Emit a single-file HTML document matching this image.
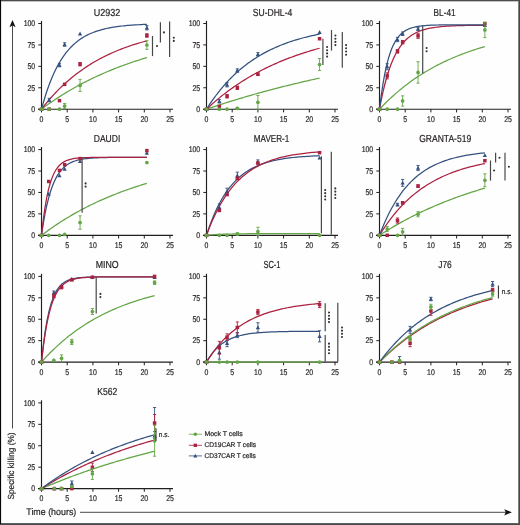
<!DOCTYPE html>
<html><head><meta charset="utf-8"><style>
html,body{margin:0;padding:0;background:#fff;}
svg{display:block;font-family:"Liberation Sans", sans-serif;will-change:transform;}
text{stroke:#231f20;stroke-width:0.2px;text-rendering:geometricPrecision;}
</style></head><body>
<svg width="520" height="525" viewBox="0 0 520 525">
<rect width="520" height="525" fill="#fefefe"/>
<text x="107.1" y="15.9" font-size="10.2" text-anchor="middle" fill="#231f20" textLength="26.5" lengthAdjust="spacingAndGlyphs">U2932</text>
<line x1="41.5" y1="20.9" x2="41.5" y2="109.7" stroke="#231f20" stroke-width="1.15"/>
<line x1="38" y1="109.2" x2="173" y2="109.2" stroke="#231f20" stroke-width="1.15"/>
<line x1="38.3" y1="109.2" x2="41.5" y2="109.2" stroke="#231f20" stroke-width="1"/>
<text x="35.2" y="112" font-size="8.3" text-anchor="end" fill="#231f20" textLength="3.85" lengthAdjust="spacingAndGlyphs">0</text>
<line x1="38.3" y1="87.78" x2="41.5" y2="87.78" stroke="#231f20" stroke-width="1"/>
<text x="35.2" y="90.58" font-size="8.3" text-anchor="end" fill="#231f20" textLength="7.7" lengthAdjust="spacingAndGlyphs">25</text>
<line x1="38.3" y1="66.35" x2="41.5" y2="66.35" stroke="#231f20" stroke-width="1"/>
<text x="35.2" y="69.15" font-size="8.3" text-anchor="end" fill="#231f20" textLength="7.7" lengthAdjust="spacingAndGlyphs">50</text>
<line x1="38.3" y1="44.92" x2="41.5" y2="44.92" stroke="#231f20" stroke-width="1"/>
<text x="35.2" y="47.72" font-size="8.3" text-anchor="end" fill="#231f20" textLength="7.7" lengthAdjust="spacingAndGlyphs">75</text>
<line x1="38.3" y1="23.5" x2="41.5" y2="23.5" stroke="#231f20" stroke-width="1"/>
<text x="35.2" y="26.3" font-size="8.3" text-anchor="end" fill="#231f20" textLength="11.55" lengthAdjust="spacingAndGlyphs">100</text>
<line x1="41.5" y1="109.2" x2="41.5" y2="112.4" stroke="#231f20" stroke-width="1"/>
<text x="41.5" y="121.9" font-size="8.3" text-anchor="middle" fill="#231f20" textLength="3.85" lengthAdjust="spacingAndGlyphs">0</text>
<line x1="67.2" y1="109.2" x2="67.2" y2="112.4" stroke="#231f20" stroke-width="1"/>
<text x="67.2" y="121.9" font-size="8.3" text-anchor="middle" fill="#231f20" textLength="3.85" lengthAdjust="spacingAndGlyphs">5</text>
<line x1="92.9" y1="109.2" x2="92.9" y2="112.4" stroke="#231f20" stroke-width="1"/>
<text x="92.9" y="121.9" font-size="8.3" text-anchor="middle" fill="#231f20" textLength="7.7" lengthAdjust="spacingAndGlyphs">10</text>
<line x1="118.6" y1="109.2" x2="118.6" y2="112.4" stroke="#231f20" stroke-width="1"/>
<text x="118.6" y="121.9" font-size="8.3" text-anchor="middle" fill="#231f20" textLength="7.7" lengthAdjust="spacingAndGlyphs">15</text>
<line x1="144.3" y1="109.2" x2="144.3" y2="112.4" stroke="#231f20" stroke-width="1"/>
<text x="144.3" y="121.9" font-size="8.3" text-anchor="middle" fill="#231f20" textLength="7.7" lengthAdjust="spacingAndGlyphs">20</text>
<line x1="170" y1="109.2" x2="170" y2="112.4" stroke="#231f20" stroke-width="1"/>
<text x="170" y="121.9" font-size="8.3" text-anchor="middle" fill="#231f20" textLength="7.7" lengthAdjust="spacingAndGlyphs">25</text>
<polyline points="41.5,109.2 43.26,107.89 45.01,106.6 46.77,105.34 48.52,104.09 50.28,102.86 52.04,101.65 53.79,100.46 55.55,99.28 57.31,98.13 59.06,96.99 60.82,95.87 62.57,94.76 64.33,93.67 66.09,92.6 67.84,91.55 69.6,90.51 71.35,89.49 73.11,88.48 74.87,87.49 76.62,86.51 78.38,85.55 80.14,84.61 81.89,83.67 83.65,82.76 85.4,81.85 87.16,80.96 88.92,80.08 90.67,79.22 92.43,78.37 94.19,77.53 95.94,76.71 97.7,75.9 99.45,75.1 101.21,74.31 102.97,73.54 104.72,72.77 106.48,72.02 108.23,71.28 109.99,70.55 111.75,69.83 113.5,69.13 115.26,68.43 117.02,67.74 118.77,67.07 120.53,66.4 122.28,65.75 124.04,65.11 125.8,64.47 127.55,63.85 129.31,63.23 131.06,62.62 132.82,62.03 134.58,61.44 136.33,60.86 138.09,60.29 139.85,59.73 141.6,59.18 143.36,58.63 145.11,58.1 146.87,57.57" fill="none" stroke="#64a546" stroke-width="1.25"/>
<polyline points="41.5,109.2 43.26,106.95 45.01,104.75 46.77,102.62 48.52,100.53 50.28,98.51 52.04,96.54 53.79,94.62 55.55,92.75 57.31,90.92 59.06,89.15 60.82,87.42 62.57,85.74 64.33,84.11 66.09,82.51 67.84,80.96 69.6,79.45 71.35,77.98 73.11,76.55 74.87,75.15 76.62,73.79 78.38,72.47 80.14,71.18 81.89,69.93 83.65,68.71 85.4,67.52 87.16,66.36 88.92,65.23 90.67,64.14 92.43,63.07 94.19,62.03 95.94,61.01 97.7,60.03 99.45,59.07 101.21,58.13 102.97,57.22 104.72,56.33 106.48,55.47 108.23,54.63 109.99,53.81 111.75,53.01 113.5,52.24 115.26,51.48 117.02,50.75 118.77,50.03 120.53,49.33 122.28,48.65 124.04,47.99 125.8,47.35 127.55,46.72 129.31,46.11 131.06,45.51 132.82,44.94 134.58,44.37 136.33,43.82 138.09,43.29 139.85,42.77 141.6,42.26 143.36,41.77 145.11,41.29 146.87,40.82" fill="none" stroke="#ab2240" stroke-width="1.25"/>
<polyline points="41.5,109.2 43.26,102.86 45.01,96.99 46.77,91.55 48.52,86.51 50.28,81.85 52.04,77.53 53.79,73.54 55.55,69.83 57.31,66.4 59.06,63.23 60.82,60.29 62.57,57.57 64.33,55.05 66.09,52.71 67.84,50.55 69.6,48.55 71.35,46.7 73.11,44.98 74.87,43.39 76.62,41.92 78.38,40.56 80.14,39.29 81.89,38.12 83.65,37.04 85.4,36.04 87.16,35.11 88.92,34.25 90.67,33.46 92.43,32.72 94.19,32.04 95.94,31.41 97.7,30.82 99.45,30.28 101.21,29.78 102.97,29.31 104.72,28.88 106.48,28.49 108.23,28.12 109.99,27.77 111.75,27.46 113.5,27.17 115.26,26.89 117.02,26.64 118.77,26.41 120.53,26.2 122.28,26 124.04,25.81 125.8,25.64 127.55,25.48 129.31,25.34 131.06,25.2 132.82,25.07 134.58,24.96 136.33,24.85 138.09,24.75 139.85,24.66 141.6,24.57 143.36,24.49 145.11,24.42 146.87,24.35" fill="none" stroke="#35517f" stroke-width="1.25"/>
<path d="M41.5 107L43.6 110.88L39.4 110.88Z" fill="#35517f"/>
<line x1="49.21" y1="98.32" x2="49.21" y2="101.74" stroke="#35517f" stroke-width="0.9"/>
<line x1="47.61" y1="98.32" x2="50.81" y2="98.32" stroke="#35517f" stroke-width="0.9"/>
<line x1="47.61" y1="101.74" x2="50.81" y2="101.74" stroke="#35517f" stroke-width="0.9"/>
<path d="M49.21 97.83L51.31 101.71L47.11 101.71Z" fill="#35517f"/>
<line x1="59.49" y1="63.35" x2="59.49" y2="66.78" stroke="#35517f" stroke-width="0.9"/>
<line x1="57.89" y1="63.35" x2="61.09" y2="63.35" stroke="#35517f" stroke-width="0.9"/>
<line x1="57.89" y1="66.78" x2="61.09" y2="66.78" stroke="#35517f" stroke-width="0.9"/>
<path d="M59.49 62.86L61.59 66.74L57.39 66.74Z" fill="#35517f"/>
<line x1="64.63" y1="42.78" x2="64.63" y2="46.21" stroke="#35517f" stroke-width="0.9"/>
<line x1="63.03" y1="42.78" x2="66.23" y2="42.78" stroke="#35517f" stroke-width="0.9"/>
<line x1="63.03" y1="46.21" x2="66.23" y2="46.21" stroke="#35517f" stroke-width="0.9"/>
<path d="M64.63 42.29L66.73 46.18L62.53 46.18Z" fill="#35517f"/>
<path d="M80.05 31.58L82.15 35.46L77.95 35.46Z" fill="#35517f"/>
<line x1="146.87" y1="25.64" x2="146.87" y2="29.93" stroke="#35517f" stroke-width="0.9"/>
<line x1="145.27" y1="25.64" x2="148.47" y2="25.64" stroke="#35517f" stroke-width="0.9"/>
<line x1="145.27" y1="29.93" x2="148.47" y2="29.93" stroke="#35517f" stroke-width="0.9"/>
<path d="M146.87 25.58L148.97 29.47L144.77 29.47Z" fill="#35517f"/>
<rect x="39.75" y="107.45" width="3.5" height="3.5" fill="#ab2240"/>
<rect x="47.46" y="107.45" width="3.5" height="3.5" fill="#ab2240"/>
<rect x="57.74" y="98.88" width="3.5" height="3.5" fill="#ab2240"/>
<rect x="62.88" y="82.6" width="3.5" height="3.5" fill="#ab2240"/>
<line x1="80.05" y1="62.49" x2="80.05" y2="65.92" stroke="#ab2240" stroke-width="0.9"/>
<line x1="78.45" y1="62.49" x2="81.65" y2="62.49" stroke="#ab2240" stroke-width="0.9"/>
<line x1="78.45" y1="65.92" x2="81.65" y2="65.92" stroke="#ab2240" stroke-width="0.9"/>
<rect x="78.3" y="62.46" width="3.5" height="3.5" fill="#ab2240"/>
<line x1="146.87" y1="33.78" x2="146.87" y2="37.21" stroke="#ab2240" stroke-width="0.9"/>
<line x1="145.27" y1="33.78" x2="148.47" y2="33.78" stroke="#ab2240" stroke-width="0.9"/>
<line x1="145.27" y1="37.21" x2="148.47" y2="37.21" stroke="#ab2240" stroke-width="0.9"/>
<rect x="145.12" y="33.75" width="3.5" height="3.5" fill="#ab2240"/>
<circle cx="41.5" cy="109.2" r="1.85" fill="#64a546"/>
<circle cx="49.21" cy="109.2" r="1.85" fill="#64a546"/>
<circle cx="59.49" cy="109.2" r="1.85" fill="#64a546"/>
<line x1="64.63" y1="103.46" x2="64.63" y2="108.6" stroke="#64a546" stroke-width="0.9"/>
<line x1="63.03" y1="103.46" x2="66.23" y2="103.46" stroke="#64a546" stroke-width="0.9"/>
<line x1="63.03" y1="108.6" x2="66.23" y2="108.6" stroke="#64a546" stroke-width="0.9"/>
<circle cx="64.63" cy="106.03" r="1.85" fill="#64a546"/>
<line x1="80.05" y1="79.38" x2="80.05" y2="91.37" stroke="#64a546" stroke-width="0.9"/>
<line x1="78.45" y1="79.38" x2="81.65" y2="79.38" stroke="#64a546" stroke-width="0.9"/>
<line x1="78.45" y1="91.37" x2="81.65" y2="91.37" stroke="#64a546" stroke-width="0.9"/>
<circle cx="80.05" cy="85.38" r="1.85" fill="#64a546"/>
<line x1="146.87" y1="40.73" x2="146.87" y2="49.3" stroke="#64a546" stroke-width="0.9"/>
<line x1="145.27" y1="40.73" x2="148.47" y2="40.73" stroke="#64a546" stroke-width="0.9"/>
<line x1="145.27" y1="49.3" x2="148.47" y2="49.3" stroke="#64a546" stroke-width="0.9"/>
<circle cx="146.87" cy="45.01" r="1.85" fill="#64a546"/>
<line x1="152.5" y1="36" x2="152.5" y2="56.1" stroke="#484848" stroke-width="1.2"/>
<circle cx="157" cy="46.05" r="1.05" fill="#333"/>
<line x1="160.4" y1="22.3" x2="160.4" y2="42.5" stroke="#484848" stroke-width="1.2"/>
<circle cx="163.9" cy="32.4" r="1.05" fill="#333"/>
<line x1="169.6" y1="21.5" x2="169.6" y2="57.1" stroke="#484848" stroke-width="1.2"/>
<circle cx="173.8" cy="37.7" r="1.05" fill="#333"/>
<circle cx="173.8" cy="40.9" r="1.05" fill="#333"/>
<text x="272.5" y="15.9" font-size="10.2" text-anchor="middle" fill="#231f20" textLength="39.5" lengthAdjust="spacingAndGlyphs">SU-DHL-4</text>
<line x1="206.5" y1="20.9" x2="206.5" y2="109.7" stroke="#231f20" stroke-width="1.15"/>
<line x1="203" y1="109.2" x2="338" y2="109.2" stroke="#231f20" stroke-width="1.15"/>
<line x1="203.3" y1="109.2" x2="206.5" y2="109.2" stroke="#231f20" stroke-width="1"/>
<text x="200.2" y="112" font-size="8.3" text-anchor="end" fill="#231f20" textLength="3.85" lengthAdjust="spacingAndGlyphs">0</text>
<line x1="203.3" y1="87.78" x2="206.5" y2="87.78" stroke="#231f20" stroke-width="1"/>
<text x="200.2" y="90.58" font-size="8.3" text-anchor="end" fill="#231f20" textLength="7.7" lengthAdjust="spacingAndGlyphs">25</text>
<line x1="203.3" y1="66.35" x2="206.5" y2="66.35" stroke="#231f20" stroke-width="1"/>
<text x="200.2" y="69.15" font-size="8.3" text-anchor="end" fill="#231f20" textLength="7.7" lengthAdjust="spacingAndGlyphs">50</text>
<line x1="203.3" y1="44.92" x2="206.5" y2="44.92" stroke="#231f20" stroke-width="1"/>
<text x="200.2" y="47.72" font-size="8.3" text-anchor="end" fill="#231f20" textLength="7.7" lengthAdjust="spacingAndGlyphs">75</text>
<line x1="203.3" y1="23.5" x2="206.5" y2="23.5" stroke="#231f20" stroke-width="1"/>
<text x="200.2" y="26.3" font-size="8.3" text-anchor="end" fill="#231f20" textLength="11.55" lengthAdjust="spacingAndGlyphs">100</text>
<line x1="206.5" y1="109.2" x2="206.5" y2="112.4" stroke="#231f20" stroke-width="1"/>
<text x="206.5" y="121.9" font-size="8.3" text-anchor="middle" fill="#231f20" textLength="3.85" lengthAdjust="spacingAndGlyphs">0</text>
<line x1="232.2" y1="109.2" x2="232.2" y2="112.4" stroke="#231f20" stroke-width="1"/>
<text x="232.2" y="121.9" font-size="8.3" text-anchor="middle" fill="#231f20" textLength="3.85" lengthAdjust="spacingAndGlyphs">5</text>
<line x1="257.9" y1="109.2" x2="257.9" y2="112.4" stroke="#231f20" stroke-width="1"/>
<text x="257.9" y="121.9" font-size="8.3" text-anchor="middle" fill="#231f20" textLength="7.7" lengthAdjust="spacingAndGlyphs">10</text>
<line x1="283.6" y1="109.2" x2="283.6" y2="112.4" stroke="#231f20" stroke-width="1"/>
<text x="283.6" y="121.9" font-size="8.3" text-anchor="middle" fill="#231f20" textLength="7.7" lengthAdjust="spacingAndGlyphs">15</text>
<line x1="309.3" y1="109.2" x2="309.3" y2="112.4" stroke="#231f20" stroke-width="1"/>
<text x="309.3" y="121.9" font-size="8.3" text-anchor="middle" fill="#231f20" textLength="7.7" lengthAdjust="spacingAndGlyphs">20</text>
<line x1="335" y1="109.2" x2="335" y2="112.4" stroke="#231f20" stroke-width="1"/>
<text x="335" y="121.9" font-size="8.3" text-anchor="middle" fill="#231f20" textLength="7.7" lengthAdjust="spacingAndGlyphs">25</text>
<polyline points="206.5,109.2 208.38,108.56 210.27,107.92 212.15,107.29 214.04,106.66 215.92,106.04 217.81,105.42 219.69,104.81 221.58,104.2 223.46,103.59 225.35,102.99 227.23,102.4 229.12,101.81 231,101.22 232.89,100.64 234.77,100.06 236.65,99.49 238.54,98.92 240.42,98.35 242.31,97.79 244.19,97.24 246.08,96.69 247.96,96.14 249.85,95.59 251.73,95.05 253.62,94.52 255.5,93.99 257.39,93.46 259.27,92.93 261.16,92.41 263.04,91.9 264.92,91.39 266.81,90.88 268.69,90.37 270.58,89.87 272.46,89.38 274.35,88.88 276.23,88.39 278.12,87.91 280,87.42 281.89,86.95 283.77,86.47 285.66,86 287.54,85.53 289.43,85.07 291.31,84.61 293.19,84.15 295.08,83.69 296.96,83.24 298.85,82.8 300.73,82.35 302.62,81.91 304.5,81.47 306.39,81.04 308.27,80.61 310.16,80.18 312.04,79.76 313.93,79.34 315.81,78.92 317.7,78.5 319.58,78.09" fill="none" stroke="#64a546" stroke-width="1.25"/>
<polyline points="206.5,109.2 208.38,107.44 210.27,105.72 212.15,104.04 214.04,102.38 215.92,100.77 217.81,99.18 219.69,97.63 221.58,96.11 223.46,94.62 225.35,93.16 227.23,91.74 229.12,90.34 231,88.97 232.89,87.62 234.77,86.31 236.65,85.02 238.54,83.76 240.42,82.52 242.31,81.31 244.19,80.13 246.08,78.97 247.96,77.83 249.85,76.72 251.73,75.63 253.62,74.56 255.5,73.51 257.39,72.48 259.27,71.48 261.16,70.5 263.04,69.53 264.92,68.59 266.81,67.66 268.69,66.76 270.58,65.87 272.46,65 274.35,64.15 276.23,63.32 278.12,62.5 280,61.7 281.89,60.92 283.77,60.15 285.66,59.4 287.54,58.66 289.43,57.94 291.31,57.24 293.19,56.55 295.08,55.87 296.96,55.2 298.85,54.55 300.73,53.92 302.62,53.29 304.5,52.68 306.39,52.08 308.27,51.5 310.16,50.92 312.04,50.36 313.93,49.81 315.81,49.27 317.7,48.74 319.58,48.23" fill="none" stroke="#ab2240" stroke-width="1.25"/>
<polyline points="206.5,109.2 208.38,106.27 210.27,103.43 212.15,100.7 214.04,98.05 215.92,95.5 217.81,93.04 219.69,90.66 221.58,88.36 223.46,86.14 225.35,83.99 227.23,81.92 229.12,79.92 231,77.99 232.89,76.12 234.77,74.32 236.65,72.58 238.54,70.9 240.42,69.28 242.31,67.71 244.19,66.2 246.08,64.74 247.96,63.33 249.85,61.96 251.73,60.65 253.62,59.37 255.5,58.15 257.39,56.96 259.27,55.81 261.16,54.71 263.04,53.64 264.92,52.61 266.81,51.61 268.69,50.65 270.58,49.72 272.46,48.82 274.35,47.96 276.23,47.12 278.12,46.31 280,45.53 281.89,44.77 283.77,44.05 285.66,43.34 287.54,42.66 289.43,42.01 291.31,41.37 293.19,40.76 295.08,40.17 296.96,39.6 298.85,39.05 300.73,38.52 302.62,38 304.5,37.51 306.39,37.03 308.27,36.56 310.16,36.12 312.04,35.68 313.93,35.27 315.81,34.86 317.7,34.48 319.58,34.1" fill="none" stroke="#35517f" stroke-width="1.25"/>
<path d="M206.5 107L208.6 110.88L204.4 110.88Z" fill="#35517f"/>
<line x1="219.35" y1="99.6" x2="219.35" y2="103.03" stroke="#35517f" stroke-width="0.9"/>
<line x1="217.75" y1="99.6" x2="220.95" y2="99.6" stroke="#35517f" stroke-width="0.9"/>
<line x1="217.75" y1="103.03" x2="220.95" y2="103.03" stroke="#35517f" stroke-width="0.9"/>
<path d="M219.35 99.11L221.45 103L217.25 103Z" fill="#35517f"/>
<line x1="227.06" y1="82.63" x2="227.06" y2="86.92" stroke="#35517f" stroke-width="0.9"/>
<line x1="225.46" y1="82.63" x2="228.66" y2="82.63" stroke="#35517f" stroke-width="0.9"/>
<line x1="225.46" y1="86.92" x2="228.66" y2="86.92" stroke="#35517f" stroke-width="0.9"/>
<path d="M227.06 82.57L229.16 86.46L224.96 86.46Z" fill="#35517f"/>
<line x1="237.34" y1="68.84" x2="237.34" y2="72.26" stroke="#35517f" stroke-width="0.9"/>
<line x1="235.74" y1="68.84" x2="238.94" y2="68.84" stroke="#35517f" stroke-width="0.9"/>
<line x1="235.74" y1="72.26" x2="238.94" y2="72.26" stroke="#35517f" stroke-width="0.9"/>
<path d="M237.34 68.34L239.44 72.23L235.24 72.23Z" fill="#35517f"/>
<line x1="257.9" y1="52.64" x2="257.9" y2="56.07" stroke="#35517f" stroke-width="0.9"/>
<line x1="256.3" y1="52.64" x2="259.5" y2="52.64" stroke="#35517f" stroke-width="0.9"/>
<line x1="256.3" y1="56.07" x2="259.5" y2="56.07" stroke="#35517f" stroke-width="0.9"/>
<path d="M257.9 52.15L260 56.03L255.8 56.03Z" fill="#35517f"/>
<path d="M319.58 30.04L321.68 33.92L317.48 33.92Z" fill="#35517f"/>
<rect x="204.75" y="107.45" width="3.5" height="3.5" fill="#ab2240"/>
<rect x="217.6" y="104.71" width="3.5" height="3.5" fill="#ab2240"/>
<line x1="227.06" y1="94.55" x2="227.06" y2="97.97" stroke="#ab2240" stroke-width="0.9"/>
<line x1="225.46" y1="94.55" x2="228.66" y2="94.55" stroke="#ab2240" stroke-width="0.9"/>
<line x1="225.46" y1="97.97" x2="228.66" y2="97.97" stroke="#ab2240" stroke-width="0.9"/>
<rect x="225.31" y="94.51" width="3.5" height="3.5" fill="#ab2240"/>
<line x1="237.34" y1="86.06" x2="237.34" y2="89.49" stroke="#ab2240" stroke-width="0.9"/>
<line x1="235.74" y1="86.06" x2="238.94" y2="86.06" stroke="#ab2240" stroke-width="0.9"/>
<line x1="235.74" y1="89.49" x2="238.94" y2="89.49" stroke="#ab2240" stroke-width="0.9"/>
<rect x="235.59" y="86.03" width="3.5" height="3.5" fill="#ab2240"/>
<line x1="257.9" y1="72.95" x2="257.9" y2="75.52" stroke="#ab2240" stroke-width="0.9"/>
<line x1="256.3" y1="72.95" x2="259.5" y2="72.95" stroke="#ab2240" stroke-width="0.9"/>
<line x1="256.3" y1="75.52" x2="259.5" y2="75.52" stroke="#ab2240" stroke-width="0.9"/>
<rect x="256.15" y="72.48" width="3.5" height="3.5" fill="#ab2240"/>
<rect x="317.83" y="37" width="3.5" height="3.5" fill="#ab2240"/>
<circle cx="206.5" cy="109.2" r="1.85" fill="#64a546"/>
<circle cx="219.35" cy="109.2" r="1.85" fill="#64a546"/>
<circle cx="227.06" cy="109.2" r="1.85" fill="#64a546"/>
<line x1="237.34" y1="107.49" x2="237.34" y2="109.2" stroke="#64a546" stroke-width="0.9"/>
<line x1="235.74" y1="107.49" x2="238.94" y2="107.49" stroke="#64a546" stroke-width="0.9"/>
<line x1="235.74" y1="109.2" x2="238.94" y2="109.2" stroke="#64a546" stroke-width="0.9"/>
<circle cx="237.34" cy="108.34" r="1.85" fill="#64a546"/>
<line x1="257.9" y1="95.49" x2="257.9" y2="109.2" stroke="#64a546" stroke-width="0.9"/>
<line x1="256.3" y1="95.49" x2="259.5" y2="95.49" stroke="#64a546" stroke-width="0.9"/>
<line x1="256.3" y1="109.2" x2="259.5" y2="109.2" stroke="#64a546" stroke-width="0.9"/>
<circle cx="257.9" cy="102.34" r="1.85" fill="#64a546"/>
<line x1="319.58" y1="58.55" x2="319.58" y2="70.55" stroke="#64a546" stroke-width="0.9"/>
<line x1="317.98" y1="58.55" x2="321.18" y2="58.55" stroke="#64a546" stroke-width="0.9"/>
<line x1="317.98" y1="70.55" x2="321.18" y2="70.55" stroke="#64a546" stroke-width="0.9"/>
<circle cx="319.58" cy="64.55" r="1.85" fill="#64a546"/>
<line x1="322.9" y1="38.7" x2="322.9" y2="64.9" stroke="#484848" stroke-width="1.2"/>
<circle cx="327.1" cy="47" r="1.05" fill="#333"/>
<circle cx="327.1" cy="50.2" r="1.05" fill="#333"/>
<circle cx="327.1" cy="53.4" r="1.05" fill="#333"/>
<circle cx="327.1" cy="56.6" r="1.05" fill="#333"/>
<line x1="331.5" y1="30" x2="331.5" y2="50.6" stroke="#484848" stroke-width="1.2"/>
<circle cx="335.4" cy="35.5" r="1.05" fill="#333"/>
<circle cx="335.4" cy="38.7" r="1.05" fill="#333"/>
<circle cx="335.4" cy="41.9" r="1.05" fill="#333"/>
<circle cx="335.4" cy="45.1" r="1.05" fill="#333"/>
<line x1="342.3" y1="32.1" x2="342.3" y2="67.7" stroke="#484848" stroke-width="1.2"/>
<circle cx="346.1" cy="45.1" r="1.05" fill="#333"/>
<circle cx="346.1" cy="48.3" r="1.05" fill="#333"/>
<circle cx="346.1" cy="51.5" r="1.05" fill="#333"/>
<circle cx="346.1" cy="54.7" r="1.05" fill="#333"/>
<text x="444.6" y="15.9" font-size="10.2" text-anchor="middle" fill="#231f20" textLength="22" lengthAdjust="spacingAndGlyphs">BL-41</text>
<line x1="379.5" y1="20.9" x2="379.5" y2="109.7" stroke="#231f20" stroke-width="1.15"/>
<line x1="376" y1="109.2" x2="511" y2="109.2" stroke="#231f20" stroke-width="1.15"/>
<line x1="376.3" y1="109.2" x2="379.5" y2="109.2" stroke="#231f20" stroke-width="1"/>
<text x="373.2" y="112" font-size="8.3" text-anchor="end" fill="#231f20" textLength="3.85" lengthAdjust="spacingAndGlyphs">0</text>
<line x1="376.3" y1="87.78" x2="379.5" y2="87.78" stroke="#231f20" stroke-width="1"/>
<text x="373.2" y="90.58" font-size="8.3" text-anchor="end" fill="#231f20" textLength="7.7" lengthAdjust="spacingAndGlyphs">25</text>
<line x1="376.3" y1="66.35" x2="379.5" y2="66.35" stroke="#231f20" stroke-width="1"/>
<text x="373.2" y="69.15" font-size="8.3" text-anchor="end" fill="#231f20" textLength="7.7" lengthAdjust="spacingAndGlyphs">50</text>
<line x1="376.3" y1="44.92" x2="379.5" y2="44.92" stroke="#231f20" stroke-width="1"/>
<text x="373.2" y="47.72" font-size="8.3" text-anchor="end" fill="#231f20" textLength="7.7" lengthAdjust="spacingAndGlyphs">75</text>
<line x1="376.3" y1="23.5" x2="379.5" y2="23.5" stroke="#231f20" stroke-width="1"/>
<text x="373.2" y="26.3" font-size="8.3" text-anchor="end" fill="#231f20" textLength="11.55" lengthAdjust="spacingAndGlyphs">100</text>
<line x1="379.5" y1="109.2" x2="379.5" y2="112.4" stroke="#231f20" stroke-width="1"/>
<text x="379.5" y="121.9" font-size="8.3" text-anchor="middle" fill="#231f20" textLength="3.85" lengthAdjust="spacingAndGlyphs">0</text>
<line x1="405.2" y1="109.2" x2="405.2" y2="112.4" stroke="#231f20" stroke-width="1"/>
<text x="405.2" y="121.9" font-size="8.3" text-anchor="middle" fill="#231f20" textLength="3.85" lengthAdjust="spacingAndGlyphs">5</text>
<line x1="430.9" y1="109.2" x2="430.9" y2="112.4" stroke="#231f20" stroke-width="1"/>
<text x="430.9" y="121.9" font-size="8.3" text-anchor="middle" fill="#231f20" textLength="7.7" lengthAdjust="spacingAndGlyphs">10</text>
<line x1="456.6" y1="109.2" x2="456.6" y2="112.4" stroke="#231f20" stroke-width="1"/>
<text x="456.6" y="121.9" font-size="8.3" text-anchor="middle" fill="#231f20" textLength="7.7" lengthAdjust="spacingAndGlyphs">15</text>
<line x1="482.3" y1="109.2" x2="482.3" y2="112.4" stroke="#231f20" stroke-width="1"/>
<text x="482.3" y="121.9" font-size="8.3" text-anchor="middle" fill="#231f20" textLength="7.7" lengthAdjust="spacingAndGlyphs">20</text>
<line x1="508" y1="109.2" x2="508" y2="112.4" stroke="#231f20" stroke-width="1"/>
<text x="508" y="121.9" font-size="8.3" text-anchor="middle" fill="#231f20" textLength="7.7" lengthAdjust="spacingAndGlyphs">25</text>
<polyline points="379.5,109.2 381.26,107.35 383.01,105.53 384.77,103.76 386.52,102.02 388.28,100.32 390.04,98.66 391.79,97.04 393.55,95.45 395.31,93.89 397.06,92.37 398.82,90.88 400.57,89.42 402.33,87.99 404.09,86.6 405.84,85.24 407.6,83.9 409.35,82.59 411.11,81.32 412.87,80.06 414.62,78.84 416.38,77.64 418.14,76.47 419.89,75.33 421.65,74.21 423.4,73.11 425.16,72.04 426.92,70.99 428.67,69.96 430.43,68.95 432.19,67.97 433.94,67.01 435.7,66.07 437.45,65.15 439.21,64.25 440.97,63.37 442.72,62.5 444.48,61.66 446.23,60.83 447.99,60.03 449.75,59.24 451.5,58.46 453.26,57.71 455.02,56.97 456.77,56.24 458.53,55.54 460.28,54.84 462.04,54.16 463.8,53.5 465.55,52.85 467.31,52.22 469.06,51.6 470.82,50.99 472.58,50.39 474.33,49.81 476.09,49.24 477.85,48.69 479.6,48.14 481.36,47.61 483.11,47.09 484.87,46.58" fill="none" stroke="#64a546" stroke-width="1.25"/>
<polyline points="379.5,109.2 381.26,99.99 383.01,91.79 384.77,84.49 386.52,77.99 388.28,72.2 390.04,67.05 391.79,62.46 393.55,58.37 395.31,54.74 397.06,51.5 398.82,48.62 400.57,46.05 402.33,43.76 404.09,41.73 405.84,39.92 407.6,38.31 409.35,36.87 411.11,35.59 412.87,34.45 414.62,33.44 416.38,32.54 418.14,31.73 419.89,31.02 421.65,30.38 423.4,29.82 425.16,29.31 426.92,28.86 428.67,28.46 430.43,28.11 432.19,27.79 433.94,27.51 435.7,27.25 437.45,27.03 439.21,26.83 440.97,26.65 442.72,26.5 444.48,26.36 446.23,26.23 447.99,26.12 449.75,26.02 451.5,25.93 453.26,25.85 455.02,25.78 456.77,25.72 458.53,25.66 460.28,25.62 462.04,25.57 463.8,25.53 465.55,25.5 467.31,25.47 469.06,25.44 470.82,25.41 472.58,25.39 474.33,25.37 476.09,25.36 477.85,25.34 479.6,25.33 481.36,25.31 483.11,25.3 484.87,25.29" fill="none" stroke="#ab2240" stroke-width="1.25"/>
<polyline points="379.5,109.2 381.26,95.22 383.01,83.55 384.77,73.82 386.52,65.7 388.28,58.92 390.04,53.27 391.79,48.55 393.55,44.61 395.31,41.33 397.06,38.59 398.82,36.3 400.57,34.39 402.33,32.8 404.09,31.48 405.84,30.37 407.6,29.44 409.35,28.67 411.11,28.03 412.87,27.49 414.62,27.04 416.38,26.67 418.14,26.36 419.89,26.1 421.65,25.88 423.4,25.7 425.16,25.55 426.92,25.42 428.67,25.32 430.43,25.23 432.19,25.15 433.94,25.09 435.7,25.04 437.45,25 439.21,24.96 440.97,24.93 442.72,24.91 444.48,24.89 446.23,24.87 447.99,24.86 449.75,24.85 451.5,24.84 453.26,24.83 455.02,24.82 456.77,24.81 458.53,24.81 460.28,24.81 462.04,24.8 463.8,24.8 465.55,24.8 467.31,24.8 469.06,24.79 470.82,24.79 472.58,24.79 474.33,24.79 476.09,24.79 477.85,24.79 479.6,24.79 481.36,24.79 483.11,24.79 484.87,24.79" fill="none" stroke="#35517f" stroke-width="1.25"/>
<path d="M379.5 107L381.6 110.88L377.4 110.88Z" fill="#35517f"/>
<line x1="387.21" y1="63.69" x2="387.21" y2="69.69" stroke="#35517f" stroke-width="0.9"/>
<line x1="385.61" y1="63.69" x2="388.81" y2="63.69" stroke="#35517f" stroke-width="0.9"/>
<line x1="385.61" y1="69.69" x2="388.81" y2="69.69" stroke="#35517f" stroke-width="0.9"/>
<path d="M387.21 64.49L389.31 68.37L385.11 68.37Z" fill="#35517f"/>
<line x1="397.49" y1="37.38" x2="397.49" y2="41.67" stroke="#35517f" stroke-width="0.9"/>
<line x1="395.89" y1="37.38" x2="399.09" y2="37.38" stroke="#35517f" stroke-width="0.9"/>
<line x1="395.89" y1="41.67" x2="399.09" y2="41.67" stroke="#35517f" stroke-width="0.9"/>
<path d="M397.49 37.32L399.59 41.21L395.39 41.21Z" fill="#35517f"/>
<line x1="402.63" y1="31.98" x2="402.63" y2="35.41" stroke="#35517f" stroke-width="0.9"/>
<line x1="401.03" y1="31.98" x2="404.23" y2="31.98" stroke="#35517f" stroke-width="0.9"/>
<line x1="401.03" y1="35.41" x2="404.23" y2="35.41" stroke="#35517f" stroke-width="0.9"/>
<path d="M402.63 31.49L404.73 35.38L400.53 35.38Z" fill="#35517f"/>
<line x1="418.05" y1="27.7" x2="418.05" y2="30.27" stroke="#35517f" stroke-width="0.9"/>
<line x1="416.45" y1="27.7" x2="419.65" y2="27.7" stroke="#35517f" stroke-width="0.9"/>
<line x1="416.45" y1="30.27" x2="419.65" y2="30.27" stroke="#35517f" stroke-width="0.9"/>
<path d="M418.05 26.78L420.15 30.66L415.95 30.66Z" fill="#35517f"/>
<path d="M484.87 23.01L486.97 26.89L482.77 26.89Z" fill="#35517f"/>
<rect x="377.75" y="107.45" width="3.5" height="3.5" fill="#ab2240"/>
<line x1="387.21" y1="72.86" x2="387.21" y2="78.86" stroke="#ab2240" stroke-width="0.9"/>
<line x1="385.61" y1="72.86" x2="388.81" y2="72.86" stroke="#ab2240" stroke-width="0.9"/>
<line x1="385.61" y1="78.86" x2="388.81" y2="78.86" stroke="#ab2240" stroke-width="0.9"/>
<rect x="385.46" y="74.11" width="3.5" height="3.5" fill="#ab2240"/>
<line x1="397.49" y1="49.64" x2="397.49" y2="53.07" stroke="#ab2240" stroke-width="0.9"/>
<line x1="395.89" y1="49.64" x2="399.09" y2="49.64" stroke="#ab2240" stroke-width="0.9"/>
<line x1="395.89" y1="53.07" x2="399.09" y2="53.07" stroke="#ab2240" stroke-width="0.9"/>
<rect x="395.74" y="49.6" width="3.5" height="3.5" fill="#ab2240"/>
<line x1="402.63" y1="40.47" x2="402.63" y2="43.9" stroke="#ab2240" stroke-width="0.9"/>
<line x1="401.03" y1="40.47" x2="404.23" y2="40.47" stroke="#ab2240" stroke-width="0.9"/>
<line x1="401.03" y1="43.9" x2="404.23" y2="43.9" stroke="#ab2240" stroke-width="0.9"/>
<rect x="400.88" y="40.43" width="3.5" height="3.5" fill="#ab2240"/>
<line x1="418.05" y1="33.27" x2="418.05" y2="38.41" stroke="#ab2240" stroke-width="0.9"/>
<line x1="416.45" y1="33.27" x2="419.65" y2="33.27" stroke="#ab2240" stroke-width="0.9"/>
<line x1="416.45" y1="38.41" x2="419.65" y2="38.41" stroke="#ab2240" stroke-width="0.9"/>
<rect x="416.3" y="34.09" width="3.5" height="3.5" fill="#ab2240"/>
<rect x="483.12" y="21.84" width="3.5" height="3.5" fill="#ab2240"/>
<circle cx="379.5" cy="109.2" r="1.85" fill="#64a546"/>
<circle cx="387.21" cy="109.2" r="1.85" fill="#64a546"/>
<circle cx="397.49" cy="109.2" r="1.85" fill="#64a546"/>
<line x1="402.63" y1="95.83" x2="402.63" y2="106.11" stroke="#64a546" stroke-width="0.9"/>
<line x1="401.03" y1="95.83" x2="404.23" y2="95.83" stroke="#64a546" stroke-width="0.9"/>
<line x1="401.03" y1="106.11" x2="404.23" y2="106.11" stroke="#64a546" stroke-width="0.9"/>
<circle cx="402.63" cy="100.97" r="1.85" fill="#64a546"/>
<line x1="418.05" y1="61.72" x2="418.05" y2="83.15" stroke="#64a546" stroke-width="0.9"/>
<line x1="416.45" y1="61.72" x2="419.65" y2="61.72" stroke="#64a546" stroke-width="0.9"/>
<line x1="416.45" y1="83.15" x2="419.65" y2="83.15" stroke="#64a546" stroke-width="0.9"/>
<circle cx="418.05" cy="72.43" r="1.85" fill="#64a546"/>
<line x1="484.87" y1="22.21" x2="484.87" y2="37.64" stroke="#64a546" stroke-width="0.9"/>
<line x1="483.27" y1="22.21" x2="486.47" y2="22.21" stroke="#64a546" stroke-width="0.9"/>
<line x1="483.27" y1="37.64" x2="486.47" y2="37.64" stroke="#64a546" stroke-width="0.9"/>
<circle cx="484.87" cy="29.93" r="1.85" fill="#64a546"/>
<line x1="422.7" y1="26.1" x2="422.7" y2="73.2" stroke="#484848" stroke-width="1.2"/>
<circle cx="426.6" cy="48.05" r="1.05" fill="#333"/>
<circle cx="426.6" cy="51.25" r="1.05" fill="#333"/>
<text x="107" y="141.6" font-size="10.2" text-anchor="middle" fill="#231f20" textLength="26.5" lengthAdjust="spacingAndGlyphs">DAUDI</text>
<line x1="41.5" y1="147" x2="41.5" y2="235.8" stroke="#231f20" stroke-width="1.15"/>
<line x1="38" y1="235.3" x2="173" y2="235.3" stroke="#231f20" stroke-width="1.15"/>
<line x1="38.3" y1="235.3" x2="41.5" y2="235.3" stroke="#231f20" stroke-width="1"/>
<text x="35.2" y="238.1" font-size="8.3" text-anchor="end" fill="#231f20" textLength="3.85" lengthAdjust="spacingAndGlyphs">0</text>
<line x1="38.3" y1="213.88" x2="41.5" y2="213.88" stroke="#231f20" stroke-width="1"/>
<text x="35.2" y="216.68" font-size="8.3" text-anchor="end" fill="#231f20" textLength="7.7" lengthAdjust="spacingAndGlyphs">25</text>
<line x1="38.3" y1="192.45" x2="41.5" y2="192.45" stroke="#231f20" stroke-width="1"/>
<text x="35.2" y="195.25" font-size="8.3" text-anchor="end" fill="#231f20" textLength="7.7" lengthAdjust="spacingAndGlyphs">50</text>
<line x1="38.3" y1="171.03" x2="41.5" y2="171.03" stroke="#231f20" stroke-width="1"/>
<text x="35.2" y="173.83" font-size="8.3" text-anchor="end" fill="#231f20" textLength="7.7" lengthAdjust="spacingAndGlyphs">75</text>
<line x1="38.3" y1="149.6" x2="41.5" y2="149.6" stroke="#231f20" stroke-width="1"/>
<text x="35.2" y="152.4" font-size="8.3" text-anchor="end" fill="#231f20" textLength="11.55" lengthAdjust="spacingAndGlyphs">100</text>
<line x1="41.5" y1="235.3" x2="41.5" y2="238.5" stroke="#231f20" stroke-width="1"/>
<text x="41.5" y="248" font-size="8.3" text-anchor="middle" fill="#231f20" textLength="3.85" lengthAdjust="spacingAndGlyphs">0</text>
<line x1="67.2" y1="235.3" x2="67.2" y2="238.5" stroke="#231f20" stroke-width="1"/>
<text x="67.2" y="248" font-size="8.3" text-anchor="middle" fill="#231f20" textLength="3.85" lengthAdjust="spacingAndGlyphs">5</text>
<line x1="92.9" y1="235.3" x2="92.9" y2="238.5" stroke="#231f20" stroke-width="1"/>
<text x="92.9" y="248" font-size="8.3" text-anchor="middle" fill="#231f20" textLength="7.7" lengthAdjust="spacingAndGlyphs">10</text>
<line x1="118.6" y1="235.3" x2="118.6" y2="238.5" stroke="#231f20" stroke-width="1"/>
<text x="118.6" y="248" font-size="8.3" text-anchor="middle" fill="#231f20" textLength="7.7" lengthAdjust="spacingAndGlyphs">15</text>
<line x1="144.3" y1="235.3" x2="144.3" y2="238.5" stroke="#231f20" stroke-width="1"/>
<text x="144.3" y="248" font-size="8.3" text-anchor="middle" fill="#231f20" textLength="7.7" lengthAdjust="spacingAndGlyphs">20</text>
<line x1="170" y1="235.3" x2="170" y2="238.5" stroke="#231f20" stroke-width="1"/>
<text x="170" y="248" font-size="8.3" text-anchor="middle" fill="#231f20" textLength="7.7" lengthAdjust="spacingAndGlyphs">25</text>
<polyline points="41.5,235.3 43.26,233.98 45.01,232.68 46.77,231.39 48.52,230.13 50.28,228.89 52.04,227.67 53.79,226.46 55.55,225.28 57.31,224.11 59.06,222.96 60.82,221.83 62.57,220.72 64.33,219.62 66.09,218.54 67.84,217.47 69.6,216.43 71.35,215.4 73.11,214.38 74.87,213.38 76.62,212.4 78.38,211.43 80.14,210.48 81.89,209.54 83.65,208.61 85.4,207.7 87.16,206.81 88.92,205.92 90.67,205.05 92.43,204.2 94.19,203.36 95.94,202.53 97.7,201.71 99.45,200.91 101.21,200.12 102.97,199.34 104.72,198.57 106.48,197.81 108.23,197.07 109.99,196.34 111.75,195.62 113.5,194.91 115.26,194.21 117.02,193.52 118.77,192.84 120.53,192.18 122.28,191.52 124.04,190.87 125.8,190.24 127.55,189.61 129.31,188.99 131.06,188.38 132.82,187.79 134.58,187.2 136.33,186.62 138.09,186.05 139.85,185.48 141.6,184.93 143.36,184.39 145.11,183.85 146.87,183.32" fill="none" stroke="#64a546" stroke-width="1.25"/>
<polyline points="41.5,235.3 43.26,223.73 45.01,213.88 46.77,205.49 48.52,198.34 50.28,192.25 52.04,187.07 53.79,182.65 55.55,178.9 57.31,175.69 59.06,172.97 60.82,170.64 62.57,168.67 64.33,166.98 66.09,165.55 67.84,164.33 69.6,163.29 71.35,162.4 73.11,161.65 74.87,161 76.62,160.46 78.38,159.99 80.14,159.59 81.89,159.25 83.65,158.97 85.4,158.72 87.16,158.51 88.92,158.33 90.67,158.18 92.43,158.05 94.19,157.94 95.94,157.85 97.7,157.77 99.45,157.7 101.21,157.64 102.97,157.6 104.72,157.55 106.48,157.52 108.23,157.49 109.99,157.46 111.75,157.44 113.5,157.42 115.26,157.4 117.02,157.39 118.77,157.38 120.53,157.37 122.28,157.36 124.04,157.35 125.8,157.35 127.55,157.34 129.31,157.34 131.06,157.33 132.82,157.33 134.58,157.33 136.33,157.33 138.09,157.32 139.85,157.32 141.6,157.32 143.36,157.32 145.11,157.32 146.87,157.32" fill="none" stroke="#35517f" stroke-width="1.25"/>
<polyline points="41.5,235.3 43.26,219.77 45.01,207.33 46.77,197.37 48.52,189.39 50.28,183 52.04,177.89 53.79,173.79 55.55,170.51 57.31,167.88 59.06,165.78 60.82,164.09 62.57,162.74 64.33,161.66 66.09,160.79 67.84,160.1 69.6,159.55 71.35,159.1 73.11,158.74 74.87,158.46 76.62,158.23 78.38,158.05 80.14,157.9 81.89,157.78 83.65,157.69 85.4,157.62 87.16,157.56 88.92,157.51 90.67,157.47 92.43,157.44 94.19,157.41 95.94,157.39 97.7,157.38 99.45,157.36 101.21,157.35 102.97,157.35 104.72,157.34 106.48,157.33 108.23,157.33 109.99,157.33 111.75,157.32 113.5,157.32 115.26,157.32 117.02,157.32 118.77,157.32 120.53,157.32 122.28,157.32 124.04,157.32 125.8,157.31 127.55,157.31 129.31,157.31 131.06,157.31 132.82,157.31 134.58,157.31 136.33,157.31 138.09,157.31 139.85,157.31 141.6,157.31 143.36,157.31 145.11,157.31 146.87,157.31" fill="none" stroke="#ab2240" stroke-width="1.25"/>
<path d="M41.5 233.09L43.6 236.98L39.4 236.98Z" fill="#35517f"/>
<path d="M48.7 191.96L50.8 195.84L46.6 195.84Z" fill="#35517f"/>
<path d="M59.49 173.45L61.59 177.33L57.39 177.33Z" fill="#35517f"/>
<path d="M64.63 166.76L66.73 170.65L62.53 170.65Z" fill="#35517f"/>
<path d="M80.05 159.14L82.15 163.02L77.95 163.02Z" fill="#35517f"/>
<path d="M146.87 150.82L148.97 154.71L144.77 154.71Z" fill="#35517f"/>
<rect x="39.75" y="233.55" width="3.5" height="3.5" fill="#ab2240"/>
<rect x="46.95" y="179.73" width="3.5" height="3.5" fill="#ab2240"/>
<rect x="57.74" y="168.68" width="3.5" height="3.5" fill="#ab2240"/>
<rect x="62.88" y="163.02" width="3.5" height="3.5" fill="#ab2240"/>
<rect x="78.3" y="156.85" width="3.5" height="3.5" fill="#ab2240"/>
<rect x="145.12" y="148.88" width="3.5" height="3.5" fill="#ab2240"/>
<circle cx="41.5" cy="235.3" r="1.85" fill="#64a546"/>
<circle cx="48.7" cy="235.3" r="1.85" fill="#64a546"/>
<circle cx="59.49" cy="235.3" r="1.85" fill="#64a546"/>
<circle cx="64.63" cy="234.44" r="1.85" fill="#64a546"/>
<line x1="80.05" y1="215.85" x2="80.05" y2="229.22" stroke="#64a546" stroke-width="0.9"/>
<line x1="78.45" y1="215.85" x2="81.65" y2="215.85" stroke="#64a546" stroke-width="0.9"/>
<line x1="78.45" y1="229.22" x2="81.65" y2="229.22" stroke="#64a546" stroke-width="0.9"/>
<circle cx="80.05" cy="222.53" r="1.85" fill="#64a546"/>
<circle cx="146.87" cy="162.54" r="1.85" fill="#64a546"/>
<line x1="82.1" y1="157.3" x2="82.1" y2="212.7" stroke="#484848" stroke-width="1.2"/>
<circle cx="85.6" cy="183.4" r="1.05" fill="#333"/>
<circle cx="85.6" cy="186.6" r="1.05" fill="#333"/>
<text x="271.6" y="141.6" font-size="10.2" text-anchor="middle" fill="#231f20" textLength="35.5" lengthAdjust="spacingAndGlyphs">MAVER-1</text>
<line x1="206.5" y1="147" x2="206.5" y2="235.8" stroke="#231f20" stroke-width="1.15"/>
<line x1="203" y1="235.3" x2="338" y2="235.3" stroke="#231f20" stroke-width="1.15"/>
<line x1="203.3" y1="235.3" x2="206.5" y2="235.3" stroke="#231f20" stroke-width="1"/>
<text x="200.2" y="238.1" font-size="8.3" text-anchor="end" fill="#231f20" textLength="3.85" lengthAdjust="spacingAndGlyphs">0</text>
<line x1="203.3" y1="213.88" x2="206.5" y2="213.88" stroke="#231f20" stroke-width="1"/>
<text x="200.2" y="216.68" font-size="8.3" text-anchor="end" fill="#231f20" textLength="7.7" lengthAdjust="spacingAndGlyphs">25</text>
<line x1="203.3" y1="192.45" x2="206.5" y2="192.45" stroke="#231f20" stroke-width="1"/>
<text x="200.2" y="195.25" font-size="8.3" text-anchor="end" fill="#231f20" textLength="7.7" lengthAdjust="spacingAndGlyphs">50</text>
<line x1="203.3" y1="171.03" x2="206.5" y2="171.03" stroke="#231f20" stroke-width="1"/>
<text x="200.2" y="173.83" font-size="8.3" text-anchor="end" fill="#231f20" textLength="7.7" lengthAdjust="spacingAndGlyphs">75</text>
<line x1="203.3" y1="149.6" x2="206.5" y2="149.6" stroke="#231f20" stroke-width="1"/>
<text x="200.2" y="152.4" font-size="8.3" text-anchor="end" fill="#231f20" textLength="11.55" lengthAdjust="spacingAndGlyphs">100</text>
<line x1="206.5" y1="235.3" x2="206.5" y2="238.5" stroke="#231f20" stroke-width="1"/>
<text x="206.5" y="248" font-size="8.3" text-anchor="middle" fill="#231f20" textLength="3.85" lengthAdjust="spacingAndGlyphs">0</text>
<line x1="232.2" y1="235.3" x2="232.2" y2="238.5" stroke="#231f20" stroke-width="1"/>
<text x="232.2" y="248" font-size="8.3" text-anchor="middle" fill="#231f20" textLength="3.85" lengthAdjust="spacingAndGlyphs">5</text>
<line x1="257.9" y1="235.3" x2="257.9" y2="238.5" stroke="#231f20" stroke-width="1"/>
<text x="257.9" y="248" font-size="8.3" text-anchor="middle" fill="#231f20" textLength="7.7" lengthAdjust="spacingAndGlyphs">10</text>
<line x1="283.6" y1="235.3" x2="283.6" y2="238.5" stroke="#231f20" stroke-width="1"/>
<text x="283.6" y="248" font-size="8.3" text-anchor="middle" fill="#231f20" textLength="7.7" lengthAdjust="spacingAndGlyphs">15</text>
<line x1="309.3" y1="235.3" x2="309.3" y2="238.5" stroke="#231f20" stroke-width="1"/>
<text x="309.3" y="248" font-size="8.3" text-anchor="middle" fill="#231f20" textLength="7.7" lengthAdjust="spacingAndGlyphs">20</text>
<line x1="335" y1="235.3" x2="335" y2="238.5" stroke="#231f20" stroke-width="1"/>
<text x="335" y="248" font-size="8.3" text-anchor="middle" fill="#231f20" textLength="7.7" lengthAdjust="spacingAndGlyphs">25</text>
<polyline points="206.5,235.3 208.38,235.12 210.27,234.96 212.15,234.82 214.04,234.69 215.92,234.57 217.81,234.47 219.69,234.38 221.58,234.3 223.46,234.22 225.35,234.16 227.23,234.1 229.12,234.04 231,234 232.89,233.95 234.77,233.92 236.65,233.88 238.54,233.85 240.42,233.82 242.31,233.8 244.19,233.78 246.08,233.76 247.96,233.74 249.85,233.72 251.73,233.71 253.62,233.7 255.5,233.68 257.39,233.67 259.27,233.66 261.16,233.66 263.04,233.65 264.92,233.64 266.81,233.64 268.69,233.63 270.58,233.63 272.46,233.62 274.35,233.62 276.23,233.62 278.12,233.61 280,233.61 281.89,233.61 283.77,233.6 285.66,233.6 287.54,233.6 289.43,233.6 291.31,233.6 293.19,233.6 295.08,233.6 296.96,233.59 298.85,233.59 300.73,233.59 302.62,233.59 304.5,233.59 306.39,233.59 308.27,233.59 310.16,233.59 312.04,233.59 313.93,233.59 315.81,233.59 317.7,233.59 319.58,233.59" fill="none" stroke="#64a546" stroke-width="1.25"/>
<polyline points="206.5,235.3 208.38,229.6 210.27,224.31 212.15,219.39 214.04,214.82 215.92,210.57 217.81,206.62 219.69,202.96 221.58,199.55 223.46,196.38 225.35,193.43 227.23,190.7 229.12,188.16 231,185.79 232.89,183.6 234.77,181.56 236.65,179.66 238.54,177.9 240.42,176.26 242.31,174.74 244.19,173.33 246.08,172.01 247.96,170.79 249.85,169.66 251.73,168.6 253.62,167.62 255.5,166.71 257.39,165.86 259.27,165.08 261.16,164.35 263.04,163.67 264.92,163.04 266.81,162.45 268.69,161.91 270.58,161.4 272.46,160.93 274.35,160.49 276.23,160.08 278.12,159.71 280,159.36 281.89,159.03 283.77,158.73 285.66,158.44 287.54,158.18 289.43,157.94 291.31,157.71 293.19,157.5 295.08,157.31 296.96,157.13 298.85,156.96 300.73,156.8 302.62,156.66 304.5,156.52 306.39,156.39 308.27,156.28 310.16,156.17 312.04,156.07 313.93,155.97 315.81,155.89 317.7,155.81 319.58,155.73" fill="none" stroke="#35517f" stroke-width="1.25"/>
<polyline points="206.5,235.3 208.38,230.27 210.27,225.53 212.15,221.08 214.04,216.88 215.92,212.93 217.81,209.21 219.69,205.71 221.58,202.42 223.46,199.32 225.35,196.4 227.23,193.65 229.12,191.07 231,188.63 232.89,186.34 234.77,184.18 236.65,182.15 238.54,180.24 240.42,178.44 242.31,176.75 244.19,175.16 246.08,173.66 247.96,172.24 249.85,170.91 251.73,169.66 253.62,168.48 255.5,167.38 257.39,166.33 259.27,165.35 261.16,164.43 263.04,163.56 264.92,162.74 266.81,161.96 268.69,161.24 270.58,160.56 272.46,159.91 274.35,159.31 276.23,158.74 278.12,158.2 280,157.7 281.89,157.22 283.77,156.77 285.66,156.35 287.54,155.96 289.43,155.58 291.31,155.23 293.19,154.9 295.08,154.59 296.96,154.3 298.85,154.02 300.73,153.76 302.62,153.52 304.5,153.29 306.39,153.07 308.27,152.87 310.16,152.68 312.04,152.49 313.93,152.32 315.81,152.16 317.7,152.01 319.58,151.87" fill="none" stroke="#ab2240" stroke-width="1.25"/>
<path d="M206.5 233.09L208.6 236.98L204.4 236.98Z" fill="#35517f"/>
<line x1="219.35" y1="203.93" x2="219.35" y2="210.79" stroke="#35517f" stroke-width="0.9"/>
<line x1="217.75" y1="203.93" x2="220.95" y2="203.93" stroke="#35517f" stroke-width="0.9"/>
<line x1="217.75" y1="210.79" x2="220.95" y2="210.79" stroke="#35517f" stroke-width="0.9"/>
<path d="M219.35 205.16L221.45 209.04L217.25 209.04Z" fill="#35517f"/>
<line x1="227.06" y1="188.17" x2="227.06" y2="195.02" stroke="#35517f" stroke-width="0.9"/>
<line x1="225.46" y1="188.17" x2="228.66" y2="188.17" stroke="#35517f" stroke-width="0.9"/>
<line x1="225.46" y1="195.02" x2="228.66" y2="195.02" stroke="#35517f" stroke-width="0.9"/>
<path d="M227.06 189.39L229.16 193.27L224.96 193.27Z" fill="#35517f"/>
<line x1="237.34" y1="172.14" x2="237.34" y2="179" stroke="#35517f" stroke-width="0.9"/>
<line x1="235.74" y1="172.14" x2="238.94" y2="172.14" stroke="#35517f" stroke-width="0.9"/>
<line x1="235.74" y1="179" x2="238.94" y2="179" stroke="#35517f" stroke-width="0.9"/>
<path d="M237.34 173.36L239.44 177.25L235.24 177.25Z" fill="#35517f"/>
<line x1="257.9" y1="159.88" x2="257.9" y2="164.17" stroke="#35517f" stroke-width="0.9"/>
<line x1="256.3" y1="159.88" x2="259.5" y2="159.88" stroke="#35517f" stroke-width="0.9"/>
<line x1="256.3" y1="164.17" x2="259.5" y2="164.17" stroke="#35517f" stroke-width="0.9"/>
<path d="M257.9 159.82L260 163.71L255.8 163.71Z" fill="#35517f"/>
<path d="M319.58 155.71L321.68 159.59L317.48 159.59Z" fill="#35517f"/>
<rect x="204.75" y="233.55" width="3.5" height="3.5" fill="#ab2240"/>
<rect x="217.6" y="208.7" width="3.5" height="3.5" fill="#ab2240"/>
<rect x="225.31" y="192.84" width="3.5" height="3.5" fill="#ab2240"/>
<rect x="235.59" y="176.65" width="3.5" height="3.5" fill="#ab2240"/>
<rect x="256.15" y="161.22" width="3.5" height="3.5" fill="#ab2240"/>
<rect x="317.83" y="150.94" width="3.5" height="3.5" fill="#ab2240"/>
<circle cx="206.5" cy="235.3" r="1.85" fill="#64a546"/>
<circle cx="219.35" cy="235.3" r="1.85" fill="#64a546"/>
<circle cx="227.06" cy="235.3" r="1.85" fill="#64a546"/>
<line x1="237.34" y1="232.73" x2="237.34" y2="235.3" stroke="#64a546" stroke-width="0.9"/>
<line x1="235.74" y1="232.73" x2="238.94" y2="232.73" stroke="#64a546" stroke-width="0.9"/>
<line x1="235.74" y1="235.3" x2="238.94" y2="235.3" stroke="#64a546" stroke-width="0.9"/>
<circle cx="237.34" cy="234.01" r="1.85" fill="#64a546"/>
<line x1="257.9" y1="227.24" x2="257.9" y2="235.3" stroke="#64a546" stroke-width="0.9"/>
<line x1="256.3" y1="227.24" x2="259.5" y2="227.24" stroke="#64a546" stroke-width="0.9"/>
<line x1="256.3" y1="235.3" x2="259.5" y2="235.3" stroke="#64a546" stroke-width="0.9"/>
<circle cx="257.9" cy="231.53" r="1.85" fill="#64a546"/>
<circle cx="319.58" cy="235.3" r="1.85" fill="#64a546"/>
<line x1="321.4" y1="156.2" x2="321.4" y2="233.3" stroke="#484848" stroke-width="1.2"/>
<circle cx="325.2" cy="189.95" r="1.05" fill="#333"/>
<circle cx="325.2" cy="193.15" r="1.05" fill="#333"/>
<circle cx="325.2" cy="196.35" r="1.05" fill="#333"/>
<circle cx="325.2" cy="199.55" r="1.05" fill="#333"/>
<line x1="331.3" y1="151.8" x2="331.3" y2="234.6" stroke="#484848" stroke-width="1.2"/>
<circle cx="335.3" cy="188.4" r="1.05" fill="#333"/>
<circle cx="335.3" cy="191.6" r="1.05" fill="#333"/>
<circle cx="335.3" cy="194.8" r="1.05" fill="#333"/>
<circle cx="335.3" cy="198" r="1.05" fill="#333"/>
<text x="445.2" y="141.6" font-size="10.2" text-anchor="middle" fill="#231f20" textLength="52" lengthAdjust="spacingAndGlyphs">GRANTA-519</text>
<line x1="379.5" y1="147" x2="379.5" y2="235.8" stroke="#231f20" stroke-width="1.15"/>
<line x1="376" y1="235.3" x2="511" y2="235.3" stroke="#231f20" stroke-width="1.15"/>
<line x1="376.3" y1="235.3" x2="379.5" y2="235.3" stroke="#231f20" stroke-width="1"/>
<text x="373.2" y="238.1" font-size="8.3" text-anchor="end" fill="#231f20" textLength="3.85" lengthAdjust="spacingAndGlyphs">0</text>
<line x1="376.3" y1="213.88" x2="379.5" y2="213.88" stroke="#231f20" stroke-width="1"/>
<text x="373.2" y="216.68" font-size="8.3" text-anchor="end" fill="#231f20" textLength="7.7" lengthAdjust="spacingAndGlyphs">25</text>
<line x1="376.3" y1="192.45" x2="379.5" y2="192.45" stroke="#231f20" stroke-width="1"/>
<text x="373.2" y="195.25" font-size="8.3" text-anchor="end" fill="#231f20" textLength="7.7" lengthAdjust="spacingAndGlyphs">50</text>
<line x1="376.3" y1="171.03" x2="379.5" y2="171.03" stroke="#231f20" stroke-width="1"/>
<text x="373.2" y="173.83" font-size="8.3" text-anchor="end" fill="#231f20" textLength="7.7" lengthAdjust="spacingAndGlyphs">75</text>
<line x1="376.3" y1="149.6" x2="379.5" y2="149.6" stroke="#231f20" stroke-width="1"/>
<text x="373.2" y="152.4" font-size="8.3" text-anchor="end" fill="#231f20" textLength="11.55" lengthAdjust="spacingAndGlyphs">100</text>
<line x1="379.5" y1="235.3" x2="379.5" y2="238.5" stroke="#231f20" stroke-width="1"/>
<text x="379.5" y="248" font-size="8.3" text-anchor="middle" fill="#231f20" textLength="3.85" lengthAdjust="spacingAndGlyphs">0</text>
<line x1="405.2" y1="235.3" x2="405.2" y2="238.5" stroke="#231f20" stroke-width="1"/>
<text x="405.2" y="248" font-size="8.3" text-anchor="middle" fill="#231f20" textLength="3.85" lengthAdjust="spacingAndGlyphs">5</text>
<line x1="430.9" y1="235.3" x2="430.9" y2="238.5" stroke="#231f20" stroke-width="1"/>
<text x="430.9" y="248" font-size="8.3" text-anchor="middle" fill="#231f20" textLength="7.7" lengthAdjust="spacingAndGlyphs">10</text>
<line x1="456.6" y1="235.3" x2="456.6" y2="238.5" stroke="#231f20" stroke-width="1"/>
<text x="456.6" y="248" font-size="8.3" text-anchor="middle" fill="#231f20" textLength="7.7" lengthAdjust="spacingAndGlyphs">15</text>
<line x1="482.3" y1="235.3" x2="482.3" y2="238.5" stroke="#231f20" stroke-width="1"/>
<text x="482.3" y="248" font-size="8.3" text-anchor="middle" fill="#231f20" textLength="7.7" lengthAdjust="spacingAndGlyphs">20</text>
<line x1="508" y1="235.3" x2="508" y2="238.5" stroke="#231f20" stroke-width="1"/>
<text x="508" y="248" font-size="8.3" text-anchor="middle" fill="#231f20" textLength="7.7" lengthAdjust="spacingAndGlyphs">25</text>
<polyline points="379.5,235.3 381.26,234.17 383.01,233.05 384.77,231.94 386.52,230.85 388.28,229.78 390.04,228.72 391.79,227.67 393.55,226.63 395.31,225.61 397.06,224.61 398.82,223.62 400.57,222.64 402.33,221.67 404.09,220.72 405.84,219.77 407.6,218.85 409.35,217.93 411.11,217.02 412.87,216.13 414.62,215.25 416.38,214.38 418.14,213.52 419.89,212.68 421.65,211.84 423.4,211.02 425.16,210.21 426.92,209.4 428.67,208.61 430.43,207.83 432.19,207.06 433.94,206.3 435.7,205.55 437.45,204.81 439.21,204.08 440.97,203.36 442.72,202.65 444.48,201.94 446.23,201.25 447.99,200.57 449.75,199.89 451.5,199.23 453.26,198.57 455.02,197.92 456.77,197.28 458.53,196.65 460.28,196.03 462.04,195.41 463.8,194.81 465.55,194.21 467.31,193.62 469.06,193.04 470.82,192.46 472.58,191.89 474.33,191.33 476.09,190.78 477.85,190.24 479.6,189.7 481.36,189.17 483.11,188.64 484.87,188.13" fill="none" stroke="#64a546" stroke-width="1.25"/>
<polyline points="379.5,235.3 381.26,232.46 383.01,229.71 384.77,227.07 386.52,224.51 388.28,222.05 390.04,219.67 391.79,217.37 393.55,215.16 395.31,213.02 397.06,210.95 398.82,208.96 400.57,207.04 402.33,205.18 404.09,203.39 405.84,201.66 407.6,199.99 409.35,198.39 411.11,196.83 412.87,195.33 414.62,193.89 416.38,192.49 418.14,191.14 419.89,189.84 421.65,188.59 423.4,187.37 425.16,186.21 426.92,185.08 428.67,183.99 430.43,182.94 432.19,181.92 433.94,180.94 435.7,180 437.45,179.09 439.21,178.21 440.97,177.36 442.72,176.54 444.48,175.75 446.23,174.99 447.99,174.25 449.75,173.54 451.5,172.85 453.26,172.19 455.02,171.55 456.77,170.93 458.53,170.34 460.28,169.76 462.04,169.21 463.8,168.68 465.55,168.16 467.31,167.66 469.06,167.18 470.82,166.72 472.58,166.27 474.33,165.84 476.09,165.42 477.85,165.02 479.6,164.63 481.36,164.25 483.11,163.89 484.87,163.54" fill="none" stroke="#ab2240" stroke-width="1.25"/>
<polyline points="379.5,235.3 381.26,230.74 383.01,226.42 384.77,222.34 386.52,218.47 388.28,214.8 390.04,211.34 391.79,208.05 393.55,204.94 395.31,202 397.06,199.21 398.82,196.57 400.57,194.07 402.33,191.71 404.09,189.47 405.84,187.34 407.6,185.34 409.35,183.44 411.11,181.64 412.87,179.93 414.62,178.32 416.38,176.79 418.14,175.34 419.89,173.97 421.65,172.68 423.4,171.45 425.16,170.29 426.92,169.19 428.67,168.14 430.43,167.16 432.19,166.22 433.94,165.34 435.7,164.5 437.45,163.71 439.21,162.96 440.97,162.25 442.72,161.58 444.48,160.94 446.23,160.34 447.99,159.76 449.75,159.22 451.5,158.71 453.26,158.23 455.02,157.77 456.77,157.33 458.53,156.92 460.28,156.53 462.04,156.16 463.8,155.81 465.55,155.48 467.31,155.17 469.06,154.87 470.82,154.59 472.58,154.33 474.33,154.08 476.09,153.84 477.85,153.61 479.6,153.4 481.36,153.2 483.11,153.01 484.87,152.82" fill="none" stroke="#35517f" stroke-width="1.25"/>
<path d="M379.5 233.09L381.6 236.98L377.4 236.98Z" fill="#35517f"/>
<line x1="397.49" y1="203.33" x2="397.49" y2="205.9" stroke="#35517f" stroke-width="0.9"/>
<line x1="395.89" y1="203.33" x2="399.09" y2="203.33" stroke="#35517f" stroke-width="0.9"/>
<line x1="395.89" y1="205.9" x2="399.09" y2="205.9" stroke="#35517f" stroke-width="0.9"/>
<path d="M397.49 202.41L399.59 206.3L395.39 206.3Z" fill="#35517f"/>
<line x1="402.63" y1="179.42" x2="402.63" y2="186.28" stroke="#35517f" stroke-width="0.9"/>
<line x1="401.03" y1="179.42" x2="404.23" y2="179.42" stroke="#35517f" stroke-width="0.9"/>
<line x1="401.03" y1="186.28" x2="404.23" y2="186.28" stroke="#35517f" stroke-width="0.9"/>
<path d="M402.63 180.65L404.73 184.53L400.53 184.53Z" fill="#35517f"/>
<line x1="418.05" y1="165.45" x2="418.05" y2="170.6" stroke="#35517f" stroke-width="0.9"/>
<line x1="416.45" y1="165.45" x2="419.65" y2="165.45" stroke="#35517f" stroke-width="0.9"/>
<line x1="416.45" y1="170.6" x2="419.65" y2="170.6" stroke="#35517f" stroke-width="0.9"/>
<path d="M418.05 165.82L420.15 169.71L415.95 169.71Z" fill="#35517f"/>
<path d="M484.87 153.14L486.97 157.02L482.77 157.02Z" fill="#35517f"/>
<rect x="377.75" y="233.55" width="3.5" height="3.5" fill="#ab2240"/>
<rect x="385.46" y="233.55" width="3.5" height="3.5" fill="#ab2240"/>
<line x1="397.49" y1="217.99" x2="397.49" y2="223.13" stroke="#ab2240" stroke-width="0.9"/>
<line x1="395.89" y1="217.99" x2="399.09" y2="217.99" stroke="#ab2240" stroke-width="0.9"/>
<line x1="395.89" y1="223.13" x2="399.09" y2="223.13" stroke="#ab2240" stroke-width="0.9"/>
<rect x="395.74" y="218.81" width="3.5" height="3.5" fill="#ab2240"/>
<line x1="402.63" y1="201.53" x2="402.63" y2="204.11" stroke="#ab2240" stroke-width="0.9"/>
<line x1="401.03" y1="201.53" x2="404.23" y2="201.53" stroke="#ab2240" stroke-width="0.9"/>
<line x1="401.03" y1="204.11" x2="404.23" y2="204.11" stroke="#ab2240" stroke-width="0.9"/>
<rect x="400.88" y="201.07" width="3.5" height="3.5" fill="#ab2240"/>
<line x1="418.05" y1="184.82" x2="418.05" y2="187.39" stroke="#ab2240" stroke-width="0.9"/>
<line x1="416.45" y1="184.82" x2="419.65" y2="184.82" stroke="#ab2240" stroke-width="0.9"/>
<line x1="416.45" y1="187.39" x2="419.65" y2="187.39" stroke="#ab2240" stroke-width="0.9"/>
<rect x="416.3" y="184.36" width="3.5" height="3.5" fill="#ab2240"/>
<rect x="483.12" y="158.99" width="3.5" height="3.5" fill="#ab2240"/>
<circle cx="379.5" cy="235.3" r="1.85" fill="#64a546"/>
<line x1="387.21" y1="226.47" x2="387.21" y2="231.61" stroke="#64a546" stroke-width="0.9"/>
<line x1="385.61" y1="226.47" x2="388.81" y2="226.47" stroke="#64a546" stroke-width="0.9"/>
<line x1="385.61" y1="231.61" x2="388.81" y2="231.61" stroke="#64a546" stroke-width="0.9"/>
<circle cx="387.21" cy="229.04" r="1.85" fill="#64a546"/>
<circle cx="397.49" cy="235.3" r="1.85" fill="#64a546"/>
<line x1="402.63" y1="228.36" x2="402.63" y2="235.21" stroke="#64a546" stroke-width="0.9"/>
<line x1="401.03" y1="228.36" x2="404.23" y2="228.36" stroke="#64a546" stroke-width="0.9"/>
<line x1="401.03" y1="235.21" x2="404.23" y2="235.21" stroke="#64a546" stroke-width="0.9"/>
<circle cx="402.63" cy="231.79" r="1.85" fill="#64a546"/>
<line x1="418.05" y1="211.65" x2="418.05" y2="216.79" stroke="#64a546" stroke-width="0.9"/>
<line x1="416.45" y1="211.65" x2="419.65" y2="211.65" stroke="#64a546" stroke-width="0.9"/>
<line x1="416.45" y1="216.79" x2="419.65" y2="216.79" stroke="#64a546" stroke-width="0.9"/>
<circle cx="418.05" cy="214.22" r="1.85" fill="#64a546"/>
<line x1="484.87" y1="173.85" x2="484.87" y2="186.71" stroke="#64a546" stroke-width="0.9"/>
<line x1="483.27" y1="173.85" x2="486.47" y2="173.85" stroke="#64a546" stroke-width="0.9"/>
<line x1="483.27" y1="186.71" x2="486.47" y2="186.71" stroke="#64a546" stroke-width="0.9"/>
<circle cx="484.87" cy="180.28" r="1.85" fill="#64a546"/>
<line x1="490.5" y1="160.5" x2="490.5" y2="180.6" stroke="#484848" stroke-width="1.2"/>
<circle cx="494.1" cy="170.55" r="1.05" fill="#333"/>
<line x1="495.6" y1="152.8" x2="495.6" y2="162.6" stroke="#484848" stroke-width="1.2"/>
<circle cx="499.5" cy="157.7" r="1.05" fill="#333"/>
<line x1="505" y1="152.8" x2="505" y2="180.6" stroke="#484848" stroke-width="1.2"/>
<circle cx="508.9" cy="166.7" r="1.05" fill="#333"/>
<text x="107.2" y="268.2" font-size="10.2" text-anchor="middle" fill="#231f20" textLength="23" lengthAdjust="spacingAndGlyphs">MINO</text>
<line x1="41.5" y1="273.8" x2="41.5" y2="362.6" stroke="#231f20" stroke-width="1.15"/>
<line x1="38" y1="362.1" x2="173" y2="362.1" stroke="#231f20" stroke-width="1.15"/>
<line x1="38.3" y1="362.1" x2="41.5" y2="362.1" stroke="#231f20" stroke-width="1"/>
<text x="35.2" y="364.9" font-size="8.3" text-anchor="end" fill="#231f20" textLength="3.85" lengthAdjust="spacingAndGlyphs">0</text>
<line x1="38.3" y1="340.68" x2="41.5" y2="340.68" stroke="#231f20" stroke-width="1"/>
<text x="35.2" y="343.48" font-size="8.3" text-anchor="end" fill="#231f20" textLength="7.7" lengthAdjust="spacingAndGlyphs">25</text>
<line x1="38.3" y1="319.25" x2="41.5" y2="319.25" stroke="#231f20" stroke-width="1"/>
<text x="35.2" y="322.05" font-size="8.3" text-anchor="end" fill="#231f20" textLength="7.7" lengthAdjust="spacingAndGlyphs">50</text>
<line x1="38.3" y1="297.83" x2="41.5" y2="297.83" stroke="#231f20" stroke-width="1"/>
<text x="35.2" y="300.63" font-size="8.3" text-anchor="end" fill="#231f20" textLength="7.7" lengthAdjust="spacingAndGlyphs">75</text>
<line x1="38.3" y1="276.4" x2="41.5" y2="276.4" stroke="#231f20" stroke-width="1"/>
<text x="35.2" y="279.2" font-size="8.3" text-anchor="end" fill="#231f20" textLength="11.55" lengthAdjust="spacingAndGlyphs">100</text>
<line x1="41.5" y1="362.1" x2="41.5" y2="365.3" stroke="#231f20" stroke-width="1"/>
<text x="41.5" y="374.8" font-size="8.3" text-anchor="middle" fill="#231f20" textLength="3.85" lengthAdjust="spacingAndGlyphs">0</text>
<line x1="67.2" y1="362.1" x2="67.2" y2="365.3" stroke="#231f20" stroke-width="1"/>
<text x="67.2" y="374.8" font-size="8.3" text-anchor="middle" fill="#231f20" textLength="3.85" lengthAdjust="spacingAndGlyphs">5</text>
<line x1="92.9" y1="362.1" x2="92.9" y2="365.3" stroke="#231f20" stroke-width="1"/>
<text x="92.9" y="374.8" font-size="8.3" text-anchor="middle" fill="#231f20" textLength="7.7" lengthAdjust="spacingAndGlyphs">10</text>
<line x1="118.6" y1="362.1" x2="118.6" y2="365.3" stroke="#231f20" stroke-width="1"/>
<text x="118.6" y="374.8" font-size="8.3" text-anchor="middle" fill="#231f20" textLength="7.7" lengthAdjust="spacingAndGlyphs">15</text>
<line x1="144.3" y1="362.1" x2="144.3" y2="365.3" stroke="#231f20" stroke-width="1"/>
<text x="144.3" y="374.8" font-size="8.3" text-anchor="middle" fill="#231f20" textLength="7.7" lengthAdjust="spacingAndGlyphs">20</text>
<line x1="170" y1="362.1" x2="170" y2="365.3" stroke="#231f20" stroke-width="1"/>
<text x="170" y="374.8" font-size="8.3" text-anchor="middle" fill="#231f20" textLength="7.7" lengthAdjust="spacingAndGlyphs">25</text>
<polyline points="41.5,362.1 43.38,359.99 45.27,357.93 47.15,355.92 49.04,353.97 50.92,352.06 52.81,350.19 54.69,348.38 56.58,346.6 58.46,344.87 60.35,343.19 62.23,341.54 64.12,339.94 66,338.37 67.89,336.85 69.77,335.36 71.65,333.91 73.54,332.49 75.42,331.11 77.31,329.76 79.19,328.45 81.08,327.17 82.96,325.92 84.85,324.7 86.73,323.51 88.62,322.35 90.5,321.22 92.39,320.11 94.27,319.04 96.16,317.99 98.04,316.96 99.92,315.96 101.81,314.99 103.69,314.04 105.58,313.11 107.46,312.21 109.35,311.33 111.23,310.47 113.12,309.63 115,308.81 116.89,308.01 118.77,307.23 120.66,306.47 122.54,305.73 124.43,305.01 126.31,304.31 128.19,303.62 130.08,302.95 131.96,302.3 133.85,301.66 135.73,301.04 137.62,300.43 139.5,299.84 141.39,299.26 143.27,298.7 145.16,298.15 147.04,297.61 148.93,297.09 150.81,296.58 152.7,296.08 154.58,295.6" fill="none" stroke="#64a546" stroke-width="1.25"/>
<polyline points="41.5,362.1 43.38,344.76 45.27,330.95 47.15,319.94 49.04,311.18 50.92,304.19 52.81,298.63 54.69,294.19 56.58,290.66 58.46,287.85 60.35,285.61 62.23,283.82 64.12,282.4 66,281.27 67.89,280.37 69.77,279.65 71.65,279.07 73.54,278.62 75.42,278.25 77.31,277.96 79.19,277.73 81.08,277.55 82.96,277.4 84.85,277.29 86.73,277.19 88.62,277.12 90.5,277.06 92.39,277.01 94.27,276.98 96.16,276.95 98.04,276.92 99.92,276.9 101.81,276.89 103.69,276.88 105.58,276.87 107.46,276.86 109.35,276.85 111.23,276.85 113.12,276.84 115,276.84 116.89,276.84 118.77,276.84 120.66,276.83 122.54,276.83 124.43,276.83 126.31,276.83 128.19,276.83 130.08,276.83 131.96,276.83 133.85,276.83 135.73,276.83 137.62,276.83 139.5,276.83 141.39,276.83 143.27,276.83 145.16,276.83 147.04,276.83 148.93,276.83 150.81,276.83 152.7,276.83 154.58,276.83" fill="none" stroke="#35517f" stroke-width="1.25"/>
<polyline points="41.5,362.1 43.38,346.02 45.27,332.97 47.15,322.38 49.04,313.79 50.92,306.82 52.81,301.16 54.69,296.57 56.58,292.85 58.46,289.83 60.35,287.38 62.23,285.39 64.12,283.77 66,282.46 67.89,281.4 69.77,280.54 71.65,279.84 73.54,279.27 75.42,278.81 77.31,278.44 79.19,278.13 81.08,277.89 82.96,277.69 84.85,277.53 86.73,277.39 88.62,277.29 90.5,277.2 92.39,277.13 94.27,277.07 96.16,277.03 98.04,276.99 99.92,276.96 101.81,276.93 103.69,276.91 105.58,276.9 107.46,276.89 109.35,276.87 111.23,276.87 113.12,276.86 115,276.85 116.89,276.85 118.77,276.84 120.66,276.84 122.54,276.84 124.43,276.84 126.31,276.84 128.19,276.83 130.08,276.83 131.96,276.83 133.85,276.83 135.73,276.83 137.62,276.83 139.5,276.83 141.39,276.83 143.27,276.83 145.16,276.83 147.04,276.83 148.93,276.83 150.81,276.83 152.7,276.83 154.58,276.83" fill="none" stroke="#ab2240" stroke-width="1.25"/>
<path d="M41.5 359.9L43.6 363.78L39.4 363.78Z" fill="#35517f"/>
<line x1="53.84" y1="290.97" x2="53.84" y2="294.4" stroke="#35517f" stroke-width="0.9"/>
<line x1="52.24" y1="290.97" x2="55.44" y2="290.97" stroke="#35517f" stroke-width="0.9"/>
<line x1="52.24" y1="294.4" x2="55.44" y2="294.4" stroke="#35517f" stroke-width="0.9"/>
<path d="M53.84 290.48L55.94 294.36L51.74 294.36Z" fill="#35517f"/>
<path d="M61.55 283.62L63.65 287.51L59.45 287.51Z" fill="#35517f"/>
<path d="M71.83 276.77L73.93 280.65L69.73 280.65Z" fill="#35517f"/>
<path d="M92.39 275.05L94.49 278.94L90.29 278.94Z" fill="#35517f"/>
<path d="M154.58 275.05L156.68 278.94L152.48 278.94Z" fill="#35517f"/>
<rect x="39.75" y="360.35" width="3.5" height="3.5" fill="#ab2240"/>
<line x1="53.84" y1="294.4" x2="53.84" y2="297.83" stroke="#ab2240" stroke-width="0.9"/>
<line x1="52.24" y1="294.4" x2="55.44" y2="294.4" stroke="#ab2240" stroke-width="0.9"/>
<line x1="52.24" y1="297.83" x2="55.44" y2="297.83" stroke="#ab2240" stroke-width="0.9"/>
<rect x="52.09" y="294.36" width="3.5" height="3.5" fill="#ab2240"/>
<line x1="61.55" y1="285.48" x2="61.55" y2="288.91" stroke="#ab2240" stroke-width="0.9"/>
<line x1="59.95" y1="285.48" x2="63.15" y2="285.48" stroke="#ab2240" stroke-width="0.9"/>
<line x1="59.95" y1="288.91" x2="63.15" y2="288.91" stroke="#ab2240" stroke-width="0.9"/>
<rect x="59.8" y="285.45" width="3.5" height="3.5" fill="#ab2240"/>
<rect x="70.08" y="278.16" width="3.5" height="3.5" fill="#ab2240"/>
<rect x="90.64" y="275.51" width="3.5" height="3.5" fill="#ab2240"/>
<rect x="152.83" y="274.65" width="3.5" height="3.5" fill="#ab2240"/>
<circle cx="41.5" cy="362.1" r="1.85" fill="#64a546"/>
<circle cx="53.84" cy="360.39" r="1.85" fill="#64a546"/>
<line x1="61.55" y1="354.9" x2="61.55" y2="361.76" stroke="#64a546" stroke-width="0.9"/>
<line x1="59.95" y1="354.9" x2="63.15" y2="354.9" stroke="#64a546" stroke-width="0.9"/>
<line x1="59.95" y1="361.76" x2="63.15" y2="361.76" stroke="#64a546" stroke-width="0.9"/>
<circle cx="61.55" cy="358.33" r="1.85" fill="#64a546"/>
<line x1="71.83" y1="339.39" x2="71.83" y2="344.53" stroke="#64a546" stroke-width="0.9"/>
<line x1="70.23" y1="339.39" x2="73.43" y2="339.39" stroke="#64a546" stroke-width="0.9"/>
<line x1="70.23" y1="344.53" x2="73.43" y2="344.53" stroke="#64a546" stroke-width="0.9"/>
<circle cx="71.83" cy="341.96" r="1.85" fill="#64a546"/>
<line x1="92.39" y1="308.54" x2="92.39" y2="314.54" stroke="#64a546" stroke-width="0.9"/>
<line x1="90.79" y1="308.54" x2="93.99" y2="308.54" stroke="#64a546" stroke-width="0.9"/>
<line x1="90.79" y1="314.54" x2="93.99" y2="314.54" stroke="#64a546" stroke-width="0.9"/>
<circle cx="92.39" cy="311.54" r="1.85" fill="#64a546"/>
<line x1="154.58" y1="280.94" x2="154.58" y2="284.37" stroke="#64a546" stroke-width="0.9"/>
<line x1="152.98" y1="280.94" x2="156.18" y2="280.94" stroke="#64a546" stroke-width="0.9"/>
<line x1="152.98" y1="284.37" x2="156.18" y2="284.37" stroke="#64a546" stroke-width="0.9"/>
<circle cx="154.58" cy="282.66" r="1.85" fill="#64a546"/>
<line x1="96.2" y1="277.6" x2="96.2" y2="313.4" stroke="#484848" stroke-width="1.2"/>
<circle cx="100.4" cy="293.9" r="1.05" fill="#333"/>
<circle cx="100.4" cy="297.1" r="1.05" fill="#333"/>
<text x="272" y="268.2" font-size="10.2" text-anchor="middle" fill="#231f20" textLength="17" lengthAdjust="spacingAndGlyphs">SC-1</text>
<line x1="206.5" y1="273.8" x2="206.5" y2="362.6" stroke="#231f20" stroke-width="1.15"/>
<line x1="203" y1="362.1" x2="338" y2="362.1" stroke="#231f20" stroke-width="1.15"/>
<line x1="203.3" y1="362.1" x2="206.5" y2="362.1" stroke="#231f20" stroke-width="1"/>
<text x="200.2" y="364.9" font-size="8.3" text-anchor="end" fill="#231f20" textLength="3.85" lengthAdjust="spacingAndGlyphs">0</text>
<line x1="203.3" y1="340.68" x2="206.5" y2="340.68" stroke="#231f20" stroke-width="1"/>
<text x="200.2" y="343.48" font-size="8.3" text-anchor="end" fill="#231f20" textLength="7.7" lengthAdjust="spacingAndGlyphs">25</text>
<line x1="203.3" y1="319.25" x2="206.5" y2="319.25" stroke="#231f20" stroke-width="1"/>
<text x="200.2" y="322.05" font-size="8.3" text-anchor="end" fill="#231f20" textLength="7.7" lengthAdjust="spacingAndGlyphs">50</text>
<line x1="203.3" y1="297.83" x2="206.5" y2="297.83" stroke="#231f20" stroke-width="1"/>
<text x="200.2" y="300.63" font-size="8.3" text-anchor="end" fill="#231f20" textLength="7.7" lengthAdjust="spacingAndGlyphs">75</text>
<line x1="203.3" y1="276.4" x2="206.5" y2="276.4" stroke="#231f20" stroke-width="1"/>
<text x="200.2" y="279.2" font-size="8.3" text-anchor="end" fill="#231f20" textLength="11.55" lengthAdjust="spacingAndGlyphs">100</text>
<line x1="206.5" y1="362.1" x2="206.5" y2="365.3" stroke="#231f20" stroke-width="1"/>
<text x="206.5" y="374.8" font-size="8.3" text-anchor="middle" fill="#231f20" textLength="3.85" lengthAdjust="spacingAndGlyphs">0</text>
<line x1="232.2" y1="362.1" x2="232.2" y2="365.3" stroke="#231f20" stroke-width="1"/>
<text x="232.2" y="374.8" font-size="8.3" text-anchor="middle" fill="#231f20" textLength="3.85" lengthAdjust="spacingAndGlyphs">5</text>
<line x1="257.9" y1="362.1" x2="257.9" y2="365.3" stroke="#231f20" stroke-width="1"/>
<text x="257.9" y="374.8" font-size="8.3" text-anchor="middle" fill="#231f20" textLength="7.7" lengthAdjust="spacingAndGlyphs">10</text>
<line x1="283.6" y1="362.1" x2="283.6" y2="365.3" stroke="#231f20" stroke-width="1"/>
<text x="283.6" y="374.8" font-size="8.3" text-anchor="middle" fill="#231f20" textLength="7.7" lengthAdjust="spacingAndGlyphs">15</text>
<line x1="309.3" y1="362.1" x2="309.3" y2="365.3" stroke="#231f20" stroke-width="1"/>
<text x="309.3" y="374.8" font-size="8.3" text-anchor="middle" fill="#231f20" textLength="7.7" lengthAdjust="spacingAndGlyphs">20</text>
<line x1="335" y1="362.1" x2="335" y2="365.3" stroke="#231f20" stroke-width="1"/>
<text x="335" y="374.8" font-size="8.3" text-anchor="middle" fill="#231f20" textLength="7.7" lengthAdjust="spacingAndGlyphs">25</text>
<polyline points="206.5,362.1 208.38,362.1 210.27,362.1 212.15,362.1 214.04,362.1 215.92,362.1 217.81,362.1 219.69,362.1 221.58,362.1 223.46,362.1 225.35,362.1 227.23,362.1 229.12,362.1 231,362.1 232.89,362.1 234.77,362.1 236.65,362.1 238.54,362.1 240.42,362.1 242.31,362.1 244.19,362.1 246.08,362.1 247.96,362.1 249.85,362.1 251.73,362.1 253.62,362.1 255.5,362.1 257.39,362.1 259.27,362.1 261.16,362.1 263.04,362.1 264.92,362.1 266.81,362.1 268.69,362.1 270.58,362.1 272.46,362.1 274.35,362.1 276.23,362.1 278.12,362.1 280,362.1 281.89,362.1 283.77,362.1 285.66,362.1 287.54,362.1 289.43,362.1 291.31,362.1 293.19,362.1 295.08,362.1 296.96,362.1 298.85,362.1 300.73,362.1 302.62,362.1 304.5,362.1 306.39,362.1 308.27,362.1 310.16,362.1 312.04,362.1 313.93,362.1 315.81,362.1 317.7,362.1 319.58,362.1" fill="none" stroke="#64a546" stroke-width="1.25"/>
<polyline points="206.5,362.1 208.38,358.89 210.27,356.01 212.15,353.43 214.04,351.12 215.92,349.05 217.81,347.19 219.69,345.53 221.58,344.04 223.46,342.71 225.35,341.52 227.23,340.45 229.12,339.49 231,338.63 232.89,337.86 234.77,337.17 236.65,336.56 238.54,336 240.42,335.51 242.31,335.06 244.19,334.67 246.08,334.31 247.96,333.99 249.85,333.71 251.73,333.45 253.62,333.22 255.5,333.01 257.39,332.83 259.27,332.67 261.16,332.52 263.04,332.39 264.92,332.27 266.81,332.16 268.69,332.07 270.58,331.98 272.46,331.9 274.35,331.84 276.23,331.77 278.12,331.72 280,331.67 281.89,331.63 283.77,331.59 285.66,331.55 287.54,331.52 289.43,331.49 291.31,331.47 293.19,331.44 295.08,331.42 296.96,331.41 298.85,331.39 300.73,331.37 302.62,331.36 304.5,331.35 306.39,331.34 308.27,331.33 310.16,331.32 312.04,331.31 313.93,331.31 315.81,331.3 317.7,331.29 319.58,331.29" fill="none" stroke="#35517f" stroke-width="1.25"/>
<polyline points="206.5,362.1 208.38,359.12 210.27,356.28 212.15,353.58 214.04,351.02 215.92,348.57 217.81,346.24 219.69,344.03 221.58,341.92 223.46,339.92 225.35,338.01 227.23,336.19 229.12,334.46 231,332.82 232.89,331.25 234.77,329.76 236.65,328.34 238.54,326.99 240.42,325.71 242.31,324.49 244.19,323.32 246.08,322.22 247.96,321.16 249.85,320.16 251.73,319.21 253.62,318.3 255.5,317.43 257.39,316.61 259.27,315.83 261.16,315.08 263.04,314.37 264.92,313.7 266.81,313.05 268.69,312.44 270.58,311.86 272.46,311.31 274.35,310.78 276.23,310.28 278.12,309.8 280,309.35 281.89,308.92 283.77,308.5 285.66,308.11 287.54,307.74 289.43,307.39 291.31,307.05 293.19,306.73 295.08,306.42 296.96,306.13 298.85,305.85 300.73,305.59 302.62,305.34 304.5,305.1 306.39,304.87 308.27,304.66 310.16,304.45 312.04,304.25 313.93,304.07 315.81,303.89 317.7,303.72 319.58,303.56" fill="none" stroke="#ab2240" stroke-width="1.25"/>
<path d="M206.5 359.9L208.6 363.78L204.4 363.78Z" fill="#35517f"/>
<line x1="219.35" y1="345.47" x2="219.35" y2="359.19" stroke="#35517f" stroke-width="0.9"/>
<line x1="217.75" y1="345.47" x2="220.95" y2="345.47" stroke="#35517f" stroke-width="0.9"/>
<line x1="217.75" y1="359.19" x2="220.95" y2="359.19" stroke="#35517f" stroke-width="0.9"/>
<path d="M219.35 350.13L221.45 354.01L217.25 354.01Z" fill="#35517f"/>
<line x1="227.06" y1="339.82" x2="227.06" y2="346.67" stroke="#35517f" stroke-width="0.9"/>
<line x1="225.46" y1="339.82" x2="228.66" y2="339.82" stroke="#35517f" stroke-width="0.9"/>
<line x1="225.46" y1="346.67" x2="228.66" y2="346.67" stroke="#35517f" stroke-width="0.9"/>
<path d="M227.06 341.04L229.16 344.93L224.96 344.93Z" fill="#35517f"/>
<line x1="237.34" y1="332.53" x2="237.34" y2="337.68" stroke="#35517f" stroke-width="0.9"/>
<line x1="235.74" y1="332.53" x2="238.94" y2="332.53" stroke="#35517f" stroke-width="0.9"/>
<line x1="235.74" y1="337.68" x2="238.94" y2="337.68" stroke="#35517f" stroke-width="0.9"/>
<path d="M237.34 332.9L239.44 336.78L235.24 336.78Z" fill="#35517f"/>
<line x1="257.9" y1="322.76" x2="257.9" y2="332.19" stroke="#35517f" stroke-width="0.9"/>
<line x1="256.3" y1="322.76" x2="259.5" y2="322.76" stroke="#35517f" stroke-width="0.9"/>
<line x1="256.3" y1="332.19" x2="259.5" y2="332.19" stroke="#35517f" stroke-width="0.9"/>
<path d="M257.9 325.27L260 329.16L255.8 329.16Z" fill="#35517f"/>
<line x1="319.58" y1="330.73" x2="319.58" y2="341.87" stroke="#35517f" stroke-width="0.9"/>
<line x1="317.98" y1="330.73" x2="321.18" y2="330.73" stroke="#35517f" stroke-width="0.9"/>
<line x1="317.98" y1="341.87" x2="321.18" y2="341.87" stroke="#35517f" stroke-width="0.9"/>
<path d="M319.58 334.1L321.68 337.98L317.48 337.98Z" fill="#35517f"/>
<rect x="204.75" y="360.35" width="3.5" height="3.5" fill="#ab2240"/>
<line x1="219.35" y1="341.36" x2="219.35" y2="354.22" stroke="#ab2240" stroke-width="0.9"/>
<line x1="217.75" y1="341.36" x2="220.95" y2="341.36" stroke="#ab2240" stroke-width="0.9"/>
<line x1="217.75" y1="354.22" x2="220.95" y2="354.22" stroke="#ab2240" stroke-width="0.9"/>
<rect x="217.6" y="346.04" width="3.5" height="3.5" fill="#ab2240"/>
<line x1="227.06" y1="333.82" x2="227.06" y2="340.68" stroke="#ab2240" stroke-width="0.9"/>
<line x1="225.46" y1="333.82" x2="228.66" y2="333.82" stroke="#ab2240" stroke-width="0.9"/>
<line x1="225.46" y1="340.68" x2="228.66" y2="340.68" stroke="#ab2240" stroke-width="0.9"/>
<rect x="225.31" y="335.5" width="3.5" height="3.5" fill="#ab2240"/>
<line x1="237.34" y1="321.91" x2="237.34" y2="333.05" stroke="#ab2240" stroke-width="0.9"/>
<line x1="235.74" y1="321.91" x2="238.94" y2="321.91" stroke="#ab2240" stroke-width="0.9"/>
<line x1="235.74" y1="333.05" x2="238.94" y2="333.05" stroke="#ab2240" stroke-width="0.9"/>
<rect x="235.59" y="325.73" width="3.5" height="3.5" fill="#ab2240"/>
<line x1="257.9" y1="309.48" x2="257.9" y2="314.62" stroke="#ab2240" stroke-width="0.9"/>
<line x1="256.3" y1="309.48" x2="259.5" y2="309.48" stroke="#ab2240" stroke-width="0.9"/>
<line x1="256.3" y1="314.62" x2="259.5" y2="314.62" stroke="#ab2240" stroke-width="0.9"/>
<rect x="256.15" y="310.3" width="3.5" height="3.5" fill="#ab2240"/>
<line x1="319.58" y1="301.6" x2="319.58" y2="307.59" stroke="#ab2240" stroke-width="0.9"/>
<line x1="317.98" y1="301.6" x2="321.18" y2="301.6" stroke="#ab2240" stroke-width="0.9"/>
<line x1="317.98" y1="307.59" x2="321.18" y2="307.59" stroke="#ab2240" stroke-width="0.9"/>
<rect x="317.83" y="302.85" width="3.5" height="3.5" fill="#ab2240"/>
<circle cx="206.5" cy="362.1" r="1.85" fill="#64a546"/>
<circle cx="219.35" cy="362.1" r="1.85" fill="#64a546"/>
<circle cx="227.06" cy="362.1" r="1.85" fill="#64a546"/>
<circle cx="237.34" cy="362.1" r="1.85" fill="#64a546"/>
<circle cx="257.9" cy="362.1" r="1.85" fill="#64a546"/>
<circle cx="319.58" cy="362.1" r="1.85" fill="#64a546"/>
<line x1="325.2" y1="303.3" x2="325.2" y2="331.3" stroke="#484848" stroke-width="1.2"/>
<circle cx="329" cy="312.5" r="1.05" fill="#333"/>
<circle cx="329" cy="315.7" r="1.05" fill="#333"/>
<circle cx="329" cy="318.9" r="1.05" fill="#333"/>
<circle cx="329" cy="322.1" r="1.05" fill="#333"/>
<line x1="325.2" y1="335.1" x2="325.2" y2="361.8" stroke="#484848" stroke-width="1.2"/>
<circle cx="329" cy="343.65" r="1.05" fill="#333"/>
<circle cx="329" cy="346.85" r="1.05" fill="#333"/>
<circle cx="329" cy="350.05" r="1.05" fill="#333"/>
<circle cx="329" cy="353.25" r="1.05" fill="#333"/>
<line x1="337.8" y1="302.7" x2="337.8" y2="361.8" stroke="#484848" stroke-width="1.2"/>
<circle cx="342" cy="327.45" r="1.05" fill="#333"/>
<circle cx="342" cy="330.65" r="1.05" fill="#333"/>
<circle cx="342" cy="333.85" r="1.05" fill="#333"/>
<circle cx="342" cy="337.05" r="1.05" fill="#333"/>
<text x="445" y="268.2" font-size="10.2" text-anchor="middle" fill="#231f20" textLength="13.5" lengthAdjust="spacingAndGlyphs">J76</text>
<line x1="379.5" y1="273.8" x2="379.5" y2="362.6" stroke="#231f20" stroke-width="1.15"/>
<line x1="376" y1="362.1" x2="511" y2="362.1" stroke="#231f20" stroke-width="1.15"/>
<line x1="376.3" y1="362.1" x2="379.5" y2="362.1" stroke="#231f20" stroke-width="1"/>
<text x="373.2" y="364.9" font-size="8.3" text-anchor="end" fill="#231f20" textLength="3.85" lengthAdjust="spacingAndGlyphs">0</text>
<line x1="376.3" y1="340.68" x2="379.5" y2="340.68" stroke="#231f20" stroke-width="1"/>
<text x="373.2" y="343.48" font-size="8.3" text-anchor="end" fill="#231f20" textLength="7.7" lengthAdjust="spacingAndGlyphs">25</text>
<line x1="376.3" y1="319.25" x2="379.5" y2="319.25" stroke="#231f20" stroke-width="1"/>
<text x="373.2" y="322.05" font-size="8.3" text-anchor="end" fill="#231f20" textLength="7.7" lengthAdjust="spacingAndGlyphs">50</text>
<line x1="376.3" y1="297.83" x2="379.5" y2="297.83" stroke="#231f20" stroke-width="1"/>
<text x="373.2" y="300.63" font-size="8.3" text-anchor="end" fill="#231f20" textLength="7.7" lengthAdjust="spacingAndGlyphs">75</text>
<line x1="376.3" y1="276.4" x2="379.5" y2="276.4" stroke="#231f20" stroke-width="1"/>
<text x="373.2" y="279.2" font-size="8.3" text-anchor="end" fill="#231f20" textLength="11.55" lengthAdjust="spacingAndGlyphs">100</text>
<line x1="379.5" y1="362.1" x2="379.5" y2="365.3" stroke="#231f20" stroke-width="1"/>
<text x="379.5" y="374.8" font-size="8.3" text-anchor="middle" fill="#231f20" textLength="3.85" lengthAdjust="spacingAndGlyphs">0</text>
<line x1="405.2" y1="362.1" x2="405.2" y2="365.3" stroke="#231f20" stroke-width="1"/>
<text x="405.2" y="374.8" font-size="8.3" text-anchor="middle" fill="#231f20" textLength="3.85" lengthAdjust="spacingAndGlyphs">5</text>
<line x1="430.9" y1="362.1" x2="430.9" y2="365.3" stroke="#231f20" stroke-width="1"/>
<text x="430.9" y="374.8" font-size="8.3" text-anchor="middle" fill="#231f20" textLength="7.7" lengthAdjust="spacingAndGlyphs">10</text>
<line x1="456.6" y1="362.1" x2="456.6" y2="365.3" stroke="#231f20" stroke-width="1"/>
<text x="456.6" y="374.8" font-size="8.3" text-anchor="middle" fill="#231f20" textLength="7.7" lengthAdjust="spacingAndGlyphs">15</text>
<line x1="482.3" y1="362.1" x2="482.3" y2="365.3" stroke="#231f20" stroke-width="1"/>
<text x="482.3" y="374.8" font-size="8.3" text-anchor="middle" fill="#231f20" textLength="7.7" lengthAdjust="spacingAndGlyphs">20</text>
<line x1="508" y1="362.1" x2="508" y2="365.3" stroke="#231f20" stroke-width="1"/>
<text x="508" y="374.8" font-size="8.3" text-anchor="middle" fill="#231f20" textLength="7.7" lengthAdjust="spacingAndGlyphs">25</text>
<polyline points="379.5,362.1 381.38,360.2 383.27,358.35 385.15,356.54 387.04,354.77 388.92,353.03 390.81,351.34 392.69,349.68 394.58,348.06 396.46,346.47 398.35,344.92 400.23,343.41 402.12,341.93 404,340.48 405.89,339.06 407.77,337.67 409.65,336.32 411.54,334.99 413.42,333.7 415.31,332.43 417.19,331.19 419.08,329.98 420.96,328.79 422.85,327.63 424.73,326.5 426.62,325.39 428.5,324.31 430.39,323.25 432.27,322.21 434.16,321.2 436.04,320.21 437.92,319.24 439.81,318.29 441.69,317.37 443.58,316.46 445.46,315.57 447.35,314.71 449.23,313.86 451.12,313.03 453,312.22 454.89,311.43 456.77,310.65 458.66,309.9 460.54,309.16 462.43,308.43 464.31,307.72 466.19,307.03 468.08,306.35 469.96,305.69 471.85,305.04 473.73,304.41 475.62,303.79 477.5,303.18 479.39,302.59 481.27,302.01 483.16,301.45 485.04,300.89 486.93,300.35 488.81,299.82 490.7,299.3 492.58,298.8" fill="none" stroke="#ab2240" stroke-width="1.25"/>
<polyline points="379.5,362.1 381.38,360.13 383.27,358.2 385.15,356.32 387.04,354.48 388.92,352.68 390.81,350.93 392.69,349.21 394.58,347.54 396.46,345.9 398.35,344.3 400.23,342.74 402.12,341.21 404,339.72 405.89,338.26 407.77,336.84 409.65,335.45 411.54,334.09 413.42,332.76 415.31,331.46 417.19,330.2 419.08,328.96 420.96,327.75 422.85,326.57 424.73,325.41 426.62,324.28 428.5,323.18 430.39,322.1 432.27,321.05 434.16,320.03 436.04,319.02 437.92,318.04 439.81,317.08 441.69,316.15 443.58,315.23 445.46,314.34 447.35,313.46 449.23,312.61 451.12,311.78 453,310.96 454.89,310.17 456.77,309.39 458.66,308.63 460.54,307.89 462.43,307.17 464.31,306.46 466.19,305.77 468.08,305.09 469.96,304.43 471.85,303.78 473.73,303.15 475.62,302.54 477.5,301.94 479.39,301.35 481.27,300.77 483.16,300.21 485.04,299.67 486.93,299.13 488.81,298.61 490.7,298.1 492.58,297.6" fill="none" stroke="#64a546" stroke-width="1.25"/>
<polyline points="379.5,362.1 381.38,359.56 383.27,357.1 385.15,354.71 387.04,352.39 388.92,350.14 390.81,347.95 392.69,345.83 394.58,343.78 396.46,341.78 398.35,339.85 400.23,337.97 402.12,336.14 404,334.37 405.89,332.66 407.77,330.99 409.65,329.37 411.54,327.8 413.42,326.28 415.31,324.8 417.19,323.37 419.08,321.98 420.96,320.63 422.85,319.32 424.73,318.05 426.62,316.81 428.5,315.62 430.39,314.46 432.27,313.33 434.16,312.23 436.04,311.17 437.92,310.14 439.81,309.14 441.69,308.17 443.58,307.23 445.46,306.32 447.35,305.43 449.23,304.57 451.12,303.74 453,302.93 454.89,302.14 456.77,301.38 458.66,300.64 460.54,299.92 462.43,299.23 464.31,298.55 466.19,297.89 468.08,297.26 469.96,296.64 471.85,296.04 473.73,295.46 475.62,294.89 477.5,294.35 479.39,293.81 481.27,293.3 483.16,292.8 485.04,292.31 486.93,291.84 488.81,291.38 490.7,290.94 492.58,290.51" fill="none" stroke="#35517f" stroke-width="1.25"/>
<path d="M379.5 359.9L381.6 363.78L377.4 363.78Z" fill="#35517f"/>
<path d="M391.84 359.9L393.94 363.78L389.74 363.78Z" fill="#35517f"/>
<line x1="399.55" y1="356.53" x2="399.55" y2="362.1" stroke="#35517f" stroke-width="0.9"/>
<line x1="397.95" y1="356.53" x2="401.15" y2="356.53" stroke="#35517f" stroke-width="0.9"/>
<line x1="397.95" y1="362.1" x2="401.15" y2="362.1" stroke="#35517f" stroke-width="0.9"/>
<path d="M399.55 358.61L401.65 362.49L397.45 362.49Z" fill="#35517f"/>
<line x1="410.08" y1="326.36" x2="410.08" y2="333.22" stroke="#35517f" stroke-width="0.9"/>
<line x1="408.48" y1="326.36" x2="411.68" y2="326.36" stroke="#35517f" stroke-width="0.9"/>
<line x1="408.48" y1="333.22" x2="411.68" y2="333.22" stroke="#35517f" stroke-width="0.9"/>
<path d="M410.08 327.59L412.18 331.47L407.98 331.47Z" fill="#35517f"/>
<line x1="430.9" y1="297.31" x2="430.9" y2="300.74" stroke="#35517f" stroke-width="0.9"/>
<line x1="429.3" y1="297.31" x2="432.5" y2="297.31" stroke="#35517f" stroke-width="0.9"/>
<line x1="429.3" y1="300.74" x2="432.5" y2="300.74" stroke="#35517f" stroke-width="0.9"/>
<path d="M430.9 296.82L433 300.7L428.8 300.7Z" fill="#35517f"/>
<line x1="492.58" y1="281.54" x2="492.58" y2="286.68" stroke="#35517f" stroke-width="0.9"/>
<line x1="490.98" y1="281.54" x2="494.18" y2="281.54" stroke="#35517f" stroke-width="0.9"/>
<line x1="490.98" y1="286.68" x2="494.18" y2="286.68" stroke="#35517f" stroke-width="0.9"/>
<path d="M492.58 281.91L494.68 285.79L490.48 285.79Z" fill="#35517f"/>
<rect x="377.75" y="360.35" width="3.5" height="3.5" fill="#ab2240"/>
<rect x="390.09" y="360.35" width="3.5" height="3.5" fill="#ab2240"/>
<rect x="397.8" y="360.35" width="3.5" height="3.5" fill="#ab2240"/>
<line x1="410.08" y1="339.82" x2="410.08" y2="346.67" stroke="#ab2240" stroke-width="0.9"/>
<line x1="408.48" y1="339.82" x2="411.68" y2="339.82" stroke="#ab2240" stroke-width="0.9"/>
<line x1="408.48" y1="346.67" x2="411.68" y2="346.67" stroke="#ab2240" stroke-width="0.9"/>
<rect x="408.33" y="341.5" width="3.5" height="3.5" fill="#ab2240"/>
<line x1="430.9" y1="306.74" x2="430.9" y2="315.31" stroke="#ab2240" stroke-width="0.9"/>
<line x1="429.3" y1="306.74" x2="432.5" y2="306.74" stroke="#ab2240" stroke-width="0.9"/>
<line x1="429.3" y1="315.31" x2="432.5" y2="315.31" stroke="#ab2240" stroke-width="0.9"/>
<rect x="429.15" y="309.27" width="3.5" height="3.5" fill="#ab2240"/>
<line x1="492.58" y1="288.4" x2="492.58" y2="291.83" stroke="#ab2240" stroke-width="0.9"/>
<line x1="490.98" y1="288.4" x2="494.18" y2="288.4" stroke="#ab2240" stroke-width="0.9"/>
<line x1="490.98" y1="291.83" x2="494.18" y2="291.83" stroke="#ab2240" stroke-width="0.9"/>
<rect x="490.83" y="288.36" width="3.5" height="3.5" fill="#ab2240"/>
<circle cx="379.5" cy="362.1" r="1.85" fill="#64a546"/>
<circle cx="391.84" cy="362.1" r="1.85" fill="#64a546"/>
<line x1="399.55" y1="359.53" x2="399.55" y2="362.1" stroke="#64a546" stroke-width="0.9"/>
<line x1="397.95" y1="359.53" x2="401.15" y2="359.53" stroke="#64a546" stroke-width="0.9"/>
<line x1="397.95" y1="362.1" x2="401.15" y2="362.1" stroke="#64a546" stroke-width="0.9"/>
<circle cx="399.55" cy="360.81" r="1.85" fill="#64a546"/>
<line x1="410.08" y1="336.56" x2="410.08" y2="340.85" stroke="#64a546" stroke-width="0.9"/>
<line x1="408.48" y1="336.56" x2="411.68" y2="336.56" stroke="#64a546" stroke-width="0.9"/>
<line x1="408.48" y1="340.85" x2="411.68" y2="340.85" stroke="#64a546" stroke-width="0.9"/>
<circle cx="410.08" cy="338.7" r="1.85" fill="#64a546"/>
<line x1="430.9" y1="304.25" x2="430.9" y2="309.39" stroke="#64a546" stroke-width="0.9"/>
<line x1="429.3" y1="304.25" x2="432.5" y2="304.25" stroke="#64a546" stroke-width="0.9"/>
<line x1="429.3" y1="309.39" x2="432.5" y2="309.39" stroke="#64a546" stroke-width="0.9"/>
<circle cx="430.9" cy="306.82" r="1.85" fill="#64a546"/>
<line x1="492.58" y1="291.91" x2="492.58" y2="296.2" stroke="#64a546" stroke-width="0.9"/>
<line x1="490.98" y1="291.91" x2="494.18" y2="291.91" stroke="#64a546" stroke-width="0.9"/>
<line x1="490.98" y1="296.2" x2="494.18" y2="296.2" stroke="#64a546" stroke-width="0.9"/>
<circle cx="492.58" cy="294.05" r="1.85" fill="#64a546"/>
<line x1="498.4" y1="285.5" x2="498.4" y2="298.5" stroke="#222" stroke-width="1"/>
<text x="501.7" y="294" font-size="7.3" text-anchor="start" fill="#231f20" textLength="10.6" lengthAdjust="spacingAndGlyphs">n.s.</text>
<text x="107.2" y="394.9" font-size="10.2" text-anchor="middle" fill="#231f20" textLength="20" lengthAdjust="spacingAndGlyphs">K562</text>
<line x1="41.5" y1="400.3" x2="41.5" y2="489.1" stroke="#231f20" stroke-width="1.15"/>
<line x1="38" y1="488.6" x2="173" y2="488.6" stroke="#231f20" stroke-width="1.15"/>
<line x1="38.3" y1="488.6" x2="41.5" y2="488.6" stroke="#231f20" stroke-width="1"/>
<text x="35.2" y="491.4" font-size="8.3" text-anchor="end" fill="#231f20" textLength="3.85" lengthAdjust="spacingAndGlyphs">0</text>
<line x1="38.3" y1="467.18" x2="41.5" y2="467.18" stroke="#231f20" stroke-width="1"/>
<text x="35.2" y="469.98" font-size="8.3" text-anchor="end" fill="#231f20" textLength="7.7" lengthAdjust="spacingAndGlyphs">25</text>
<line x1="38.3" y1="445.75" x2="41.5" y2="445.75" stroke="#231f20" stroke-width="1"/>
<text x="35.2" y="448.55" font-size="8.3" text-anchor="end" fill="#231f20" textLength="7.7" lengthAdjust="spacingAndGlyphs">50</text>
<line x1="38.3" y1="424.33" x2="41.5" y2="424.33" stroke="#231f20" stroke-width="1"/>
<text x="35.2" y="427.13" font-size="8.3" text-anchor="end" fill="#231f20" textLength="7.7" lengthAdjust="spacingAndGlyphs">75</text>
<line x1="38.3" y1="402.9" x2="41.5" y2="402.9" stroke="#231f20" stroke-width="1"/>
<text x="35.2" y="405.7" font-size="8.3" text-anchor="end" fill="#231f20" textLength="11.55" lengthAdjust="spacingAndGlyphs">100</text>
<line x1="41.5" y1="488.6" x2="41.5" y2="491.8" stroke="#231f20" stroke-width="1"/>
<text x="41.5" y="501.3" font-size="8.3" text-anchor="middle" fill="#231f20" textLength="3.85" lengthAdjust="spacingAndGlyphs">0</text>
<line x1="67.2" y1="488.6" x2="67.2" y2="491.8" stroke="#231f20" stroke-width="1"/>
<text x="67.2" y="501.3" font-size="8.3" text-anchor="middle" fill="#231f20" textLength="3.85" lengthAdjust="spacingAndGlyphs">5</text>
<line x1="92.9" y1="488.6" x2="92.9" y2="491.8" stroke="#231f20" stroke-width="1"/>
<text x="92.9" y="501.3" font-size="8.3" text-anchor="middle" fill="#231f20" textLength="7.7" lengthAdjust="spacingAndGlyphs">10</text>
<line x1="118.6" y1="488.6" x2="118.6" y2="491.8" stroke="#231f20" stroke-width="1"/>
<text x="118.6" y="501.3" font-size="8.3" text-anchor="middle" fill="#231f20" textLength="7.7" lengthAdjust="spacingAndGlyphs">15</text>
<line x1="144.3" y1="488.6" x2="144.3" y2="491.8" stroke="#231f20" stroke-width="1"/>
<text x="144.3" y="501.3" font-size="8.3" text-anchor="middle" fill="#231f20" textLength="7.7" lengthAdjust="spacingAndGlyphs">20</text>
<line x1="170" y1="488.6" x2="170" y2="491.8" stroke="#231f20" stroke-width="1"/>
<text x="170" y="501.3" font-size="8.3" text-anchor="middle" fill="#231f20" textLength="7.7" lengthAdjust="spacingAndGlyphs">25</text>
<polyline points="41.5,488.6 43.38,487.79 45.27,486.98 47.15,486.18 49.04,485.39 50.92,484.61 52.81,483.84 54.69,483.07 56.58,482.31 58.46,481.55 60.35,480.81 62.23,480.07 64.12,479.34 66,478.61 67.89,477.89 69.77,477.18 71.65,476.48 73.54,475.78 75.42,475.09 77.31,474.4 79.19,473.72 81.08,473.05 82.96,472.39 84.85,471.73 86.73,471.07 88.62,470.43 90.5,469.79 92.39,469.15 94.27,468.52 96.16,467.9 98.04,467.28 99.92,466.67 101.81,466.07 103.69,465.47 105.58,464.87 107.46,464.29 109.35,463.7 111.23,463.13 113.12,462.56 115,461.99 116.89,461.43 118.77,460.87 120.66,460.32 122.54,459.78 124.43,459.24 126.31,458.7 128.19,458.17 130.08,457.65 131.96,457.13 133.85,456.62 135.73,456.11 137.62,455.6 139.5,455.1 141.39,454.61 143.27,454.12 145.16,453.63 147.04,453.15 148.93,452.67 150.81,452.2 152.7,451.73 154.58,451.27" fill="none" stroke="#64a546" stroke-width="1.25"/>
<polyline points="41.5,488.6 43.38,487.41 45.27,486.24 47.15,485.09 49.04,483.95 50.92,482.83 52.81,481.73 54.69,480.64 56.58,479.56 58.46,478.5 60.35,477.45 62.23,476.42 64.12,475.4 66,474.4 67.89,473.41 69.77,472.44 71.65,471.47 73.54,470.53 75.42,469.59 77.31,468.67 79.19,467.76 81.08,466.86 82.96,465.97 84.85,465.1 86.73,464.24 88.62,463.39 90.5,462.56 92.39,461.73 94.27,460.92 96.16,460.11 98.04,459.32 99.92,458.54 101.81,457.77 103.69,457.01 105.58,456.26 107.46,455.52 109.35,454.8 111.23,454.08 113.12,453.37 115,452.67 116.89,451.98 118.77,451.3 120.66,450.63 122.54,449.97 124.43,449.32 126.31,448.68 128.19,448.05 130.08,447.42 131.96,446.81 133.85,446.2 135.73,445.6 137.62,445.01 139.5,444.43 141.39,443.85 143.27,443.28 145.16,442.73 147.04,442.17 148.93,441.63 150.81,441.1 152.7,440.57 154.58,440.05" fill="none" stroke="#ab2240" stroke-width="1.25"/>
<polyline points="41.5,488.6 43.38,487.2 45.27,485.82 47.15,484.46 49.04,483.13 50.92,481.81 52.81,480.52 54.69,479.25 56.58,478 58.46,476.77 60.35,475.56 62.23,474.38 64.12,473.21 66,472.06 67.89,470.92 69.77,469.81 71.65,468.72 73.54,467.64 75.42,466.58 77.31,465.54 79.19,464.51 81.08,463.5 82.96,462.51 84.85,461.54 86.73,460.58 88.62,459.63 90.5,458.7 92.39,457.79 94.27,456.89 96.16,456.01 98.04,455.14 99.92,454.29 101.81,453.44 103.69,452.62 105.58,451.8 107.46,451 109.35,450.22 111.23,449.44 113.12,448.68 115,447.93 116.89,447.19 118.77,446.47 120.66,445.76 122.54,445.05 124.43,444.37 126.31,443.69 128.19,443.02 130.08,442.36 131.96,441.72 133.85,441.08 135.73,440.46 137.62,439.84 139.5,439.24 141.39,438.64 143.27,438.06 145.16,437.48 147.04,436.92 148.93,436.36 150.81,435.81 152.7,435.27 154.58,434.74" fill="none" stroke="#35517f" stroke-width="1.25"/>
<path d="M41.5 486.4L43.6 490.28L39.4 490.28Z" fill="#35517f"/>
<path d="M54.35 486.4L56.45 490.28L52.25 490.28Z" fill="#35517f"/>
<path d="M61.55 486.4L63.65 490.28L59.45 490.28Z" fill="#35517f"/>
<line x1="71.83" y1="480.97" x2="71.83" y2="486.11" stroke="#35517f" stroke-width="0.9"/>
<line x1="70.23" y1="480.97" x2="73.43" y2="480.97" stroke="#35517f" stroke-width="0.9"/>
<line x1="70.23" y1="486.11" x2="73.43" y2="486.11" stroke="#35517f" stroke-width="0.9"/>
<path d="M71.83 481.34L73.93 485.22L69.73 485.22Z" fill="#35517f"/>
<path d="M92.39 450.06L94.49 453.94L90.29 453.94Z" fill="#35517f"/>
<line x1="154.58" y1="407.53" x2="154.58" y2="438.38" stroke="#35517f" stroke-width="0.9"/>
<line x1="152.98" y1="407.53" x2="156.18" y2="407.53" stroke="#35517f" stroke-width="0.9"/>
<line x1="152.98" y1="438.38" x2="156.18" y2="438.38" stroke="#35517f" stroke-width="0.9"/>
<path d="M154.58 433.6L156.68 437.49L152.48 437.49Z" fill="#35517f"/>
<rect x="39.75" y="486.85" width="3.5" height="3.5" fill="#ab2240"/>
<rect x="52.6" y="486.85" width="3.5" height="3.5" fill="#ab2240"/>
<rect x="59.8" y="486.85" width="3.5" height="3.5" fill="#ab2240"/>
<rect x="70.08" y="486.85" width="3.5" height="3.5" fill="#ab2240"/>
<line x1="92.39" y1="463.06" x2="92.39" y2="471.63" stroke="#ab2240" stroke-width="0.9"/>
<line x1="90.79" y1="463.06" x2="93.99" y2="463.06" stroke="#ab2240" stroke-width="0.9"/>
<line x1="90.79" y1="471.63" x2="93.99" y2="471.63" stroke="#ab2240" stroke-width="0.9"/>
<rect x="90.64" y="465.6" width="3.5" height="3.5" fill="#ab2240"/>
<line x1="154.58" y1="414.47" x2="154.58" y2="431.61" stroke="#ab2240" stroke-width="0.9"/>
<line x1="152.98" y1="414.47" x2="156.18" y2="414.47" stroke="#ab2240" stroke-width="0.9"/>
<line x1="152.98" y1="431.61" x2="156.18" y2="431.61" stroke="#ab2240" stroke-width="0.9"/>
<rect x="152.83" y="421.29" width="3.5" height="3.5" fill="#ab2240"/>
<circle cx="41.5" cy="488.6" r="1.85" fill="#64a546"/>
<circle cx="54.35" cy="488.6" r="1.85" fill="#64a546"/>
<circle cx="61.55" cy="488.6" r="1.85" fill="#64a546"/>
<circle cx="71.83" cy="486.54" r="1.85" fill="#64a546"/>
<line x1="92.39" y1="468.29" x2="92.39" y2="479.43" stroke="#64a546" stroke-width="0.9"/>
<line x1="90.79" y1="468.29" x2="93.99" y2="468.29" stroke="#64a546" stroke-width="0.9"/>
<line x1="90.79" y1="479.43" x2="93.99" y2="479.43" stroke="#64a546" stroke-width="0.9"/>
<circle cx="92.39" cy="473.86" r="1.85" fill="#64a546"/>
<line x1="154.58" y1="425.35" x2="154.58" y2="456.21" stroke="#64a546" stroke-width="0.9"/>
<line x1="152.98" y1="425.35" x2="156.18" y2="425.35" stroke="#64a546" stroke-width="0.9"/>
<line x1="152.98" y1="456.21" x2="156.18" y2="456.21" stroke="#64a546" stroke-width="0.9"/>
<circle cx="154.58" cy="440.78" r="1.85" fill="#64a546"/>
<line x1="156" y1="428.2" x2="156" y2="440.8" stroke="#222" stroke-width="1"/>
<text x="158.8" y="436.6" font-size="7.3" text-anchor="start" fill="#231f20" textLength="10.6" lengthAdjust="spacingAndGlyphs">n.s.</text>
<line x1="12.5" y1="25.5" x2="12.5" y2="428.5" stroke="#4a4a4a" stroke-width="1"/>
<path d="M12.5 20 L15.6 27.3 L12.5 25.6 L9.4 27.3 Z" fill="#111"/>
<line x1="80" y1="512.3" x2="506" y2="512.3" stroke="#4a4a4a" stroke-width="1"/>
<path d="M511.9 512.3 L504.2 509.2 L505.8 512.3 L504.2 515.5 Z" fill="#111"/>
<text x="0" y="0" fill="#231f20" transform="translate(14.4 499.5) rotate(-90)" font-size="8.8" textLength="67" lengthAdjust="spacingAndGlyphs">Specific killing (%)</text>
<text x="26.3" y="515.3" font-size="9.4" text-anchor="start" fill="#231f20" textLength="50" lengthAdjust="spacingAndGlyphs">Time (hours)</text>
<line x1="188.8" y1="434.2" x2="202.0" y2="434.2" stroke="#64a546" stroke-width="1.0" stroke-opacity="0.8"/>
<circle cx="195.3" cy="434.2" r="1.76" fill="#64a546"/>
<text x="204.5" y="436.1" font-size="6.8" text-anchor="start" fill="#231f20" textLength="38.1" lengthAdjust="spacingAndGlyphs">Mock T cells</text>
<line x1="188.8" y1="445.3" x2="202.0" y2="445.3" stroke="#ab2240" stroke-width="1.0" stroke-opacity="0.8"/>
<rect x="193.64" y="443.64" width="3.32" height="3.32" fill="#ab2240"/>
<text x="204.5" y="447.2" font-size="6.8" text-anchor="start" fill="#231f20" textLength="51.6" lengthAdjust="spacingAndGlyphs">CD19CAR T cells</text>
<line x1="188.8" y1="455.9" x2="202.0" y2="455.9" stroke="#35517f" stroke-width="1.0" stroke-opacity="0.8"/>
<path d="M195.3 453.81L197.3 457.5L193.31 457.5Z" fill="#35517f"/>
<text x="204.5" y="457.8" font-size="6.8" text-anchor="start" fill="#231f20" textLength="51.2" lengthAdjust="spacingAndGlyphs">CD37CAR T cells</text>
<rect x="0" y="0" width="520" height="1" fill="#4c4c4a"/>
<rect x="0" y="1" width="520" height="1" fill="#c4c4c2"/>
<rect x="0" y="0" width="1" height="525" fill="#060606"/>
<rect x="1" y="2" width="1" height="521" fill="#e6e6e6"/>
<rect x="518" y="1" width="1" height="523" fill="#808080"/>
<rect x="519" y="0" width="1" height="525" fill="#484848"/>
<rect x="1" y="523" width="518" height="1" fill="#606060"/>
<rect x="0" y="524" width="520" height="1" fill="#484848"/>
</svg></body></html>
